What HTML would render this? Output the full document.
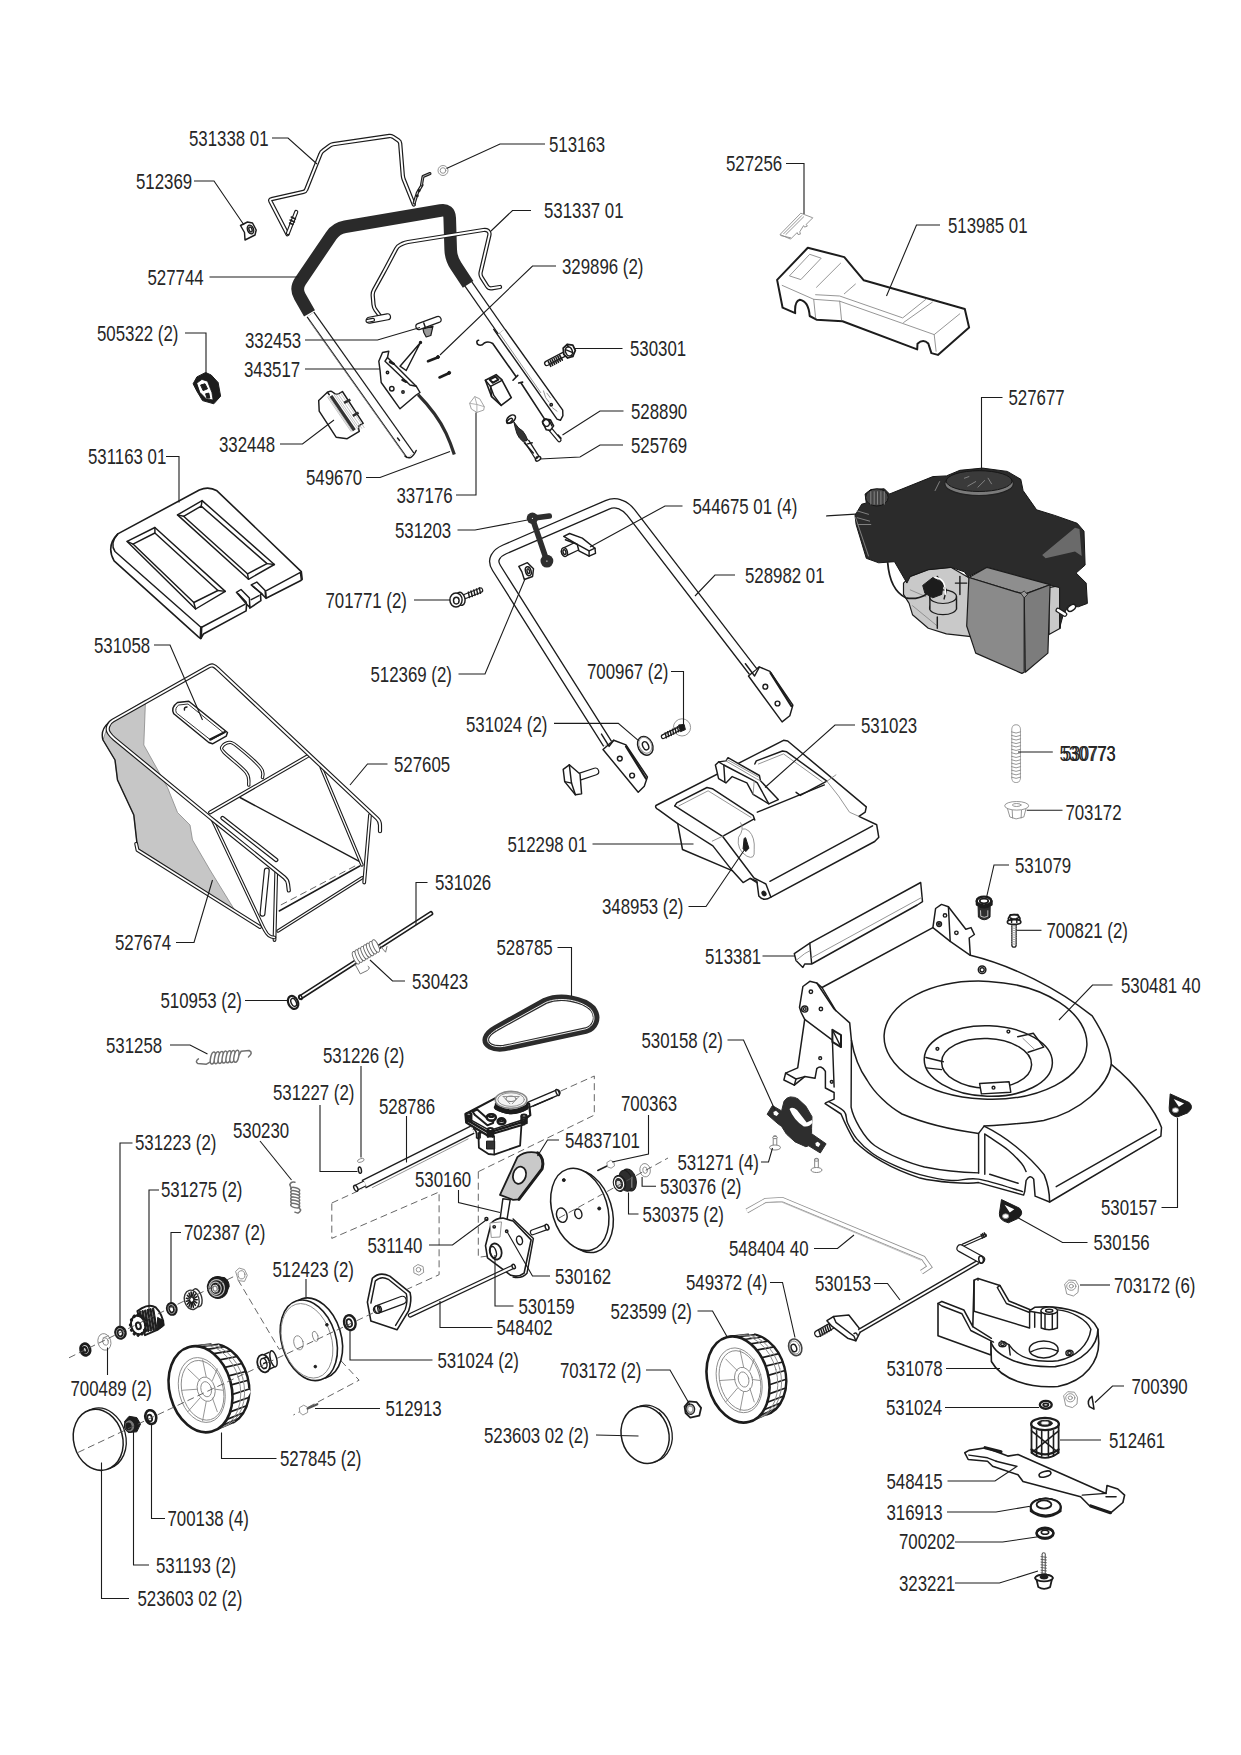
<!DOCTYPE html>
<html><head><meta charset="utf-8"><title>Parts diagram</title>
<style>
html,body{margin:0;padding:0;background:#fff}
svg{display:block}
text{font-family:"Liberation Sans",sans-serif;font-size:22.2px;fill:#262626}
.ld{fill:none;stroke:#1c1c1c;stroke-width:1.1}
.o{fill:none;stroke:#1c1c1c;stroke-width:1.45;stroke-linejoin:round;stroke-linecap:round}
.o2{fill:none;stroke:#1c1c1c;stroke-width:2;stroke-linejoin:round;stroke-linecap:round}
.w{fill:#fff;stroke:#1c1c1c;stroke-width:1.45;stroke-linejoin:round;stroke-linecap:round}
.w2{fill:#fff;stroke:#1c1c1c;stroke-width:2;stroke-linejoin:round;stroke-linecap:round}
.g{fill:none;stroke:#8a8a8a;stroke-width:0.9;stroke-linejoin:round;stroke-linecap:round}
.gw{fill:#fff;stroke:#8a8a8a;stroke-width:0.9;stroke-linejoin:round}
.k{fill:#1c1c1c;stroke:#1c1c1c;stroke-width:1;stroke-linejoin:round}
.d{fill:#2b2b2b;stroke:#161616;stroke-width:1;stroke-linejoin:round}
.m{fill:#8c8c8c;stroke:#1c1c1c;stroke-width:1.2;stroke-linejoin:round}
.lg{fill:#c9c9c9;stroke:#1c1c1c;stroke-width:1.2;stroke-linejoin:round}
.ds{fill:none;stroke:#555;stroke-width:0.9;stroke-dasharray:7 4}
</style></head><body>
<svg width="1241" height="1755" viewBox="0 0 1241 1755">
<rect width="1241" height="1755" fill="#fff"/>

<!-- parts_01_handle.py -->
<path d="M287.5,234.2 L270.4,201.3 Q269.5,199.5 271.5,199.1 L303.5,191.9 Q305.5,191.5 306.2,189.6 L320.5,153.9 Q321.2,152 322.9,150.8 L329.6,145.7 Q331.2,144.5 333.2,144.2 L389.3,136 Q391.2,135.8 392.9,136.8 L398.3,140.4 Q400,141.5 400.2,143.5 L402.8,175.5 Q403,177.5 403.7,179.4 L413.8,204.5" fill="none" stroke="#1c1c1c" stroke-width="4.3" stroke-linecap="round" stroke-linejoin="round"/>
<path d="M287.5,234.2 L270.4,201.3 Q269.5,199.5 271.5,199.1 L303.5,191.9 Q305.5,191.5 306.2,189.6 L320.5,153.9 Q321.2,152 322.9,150.8 L329.6,145.7 Q331.2,144.5 333.2,144.2 L389.3,136 Q391.2,135.8 392.9,136.8 L398.3,140.4 Q400,141.5 400.2,143.5 L402.8,175.5 Q403,177.5 403.7,179.4 L413.8,204.5" fill="none" stroke="#fff" stroke-width="1.9" stroke-linecap="round" stroke-linejoin="round"/>
<path d="M288,233 L296.2,212" fill="none" stroke="#1c1c1c" stroke-width="4.2" stroke-linecap="round" stroke-linejoin="round"/>
<path d="M288,233 L296.2,212" fill="none" stroke="#fff" stroke-width="2" stroke-linecap="round" stroke-linejoin="round"/>
<polyline class="o" points="290,220 294.5,222"/>
<polyline class="o" points="291.2,217 295.5,219"/>
<polyline class="o" points="289.5,223 293,224.5"/>
<path d="M414.2,203 L417.5,192.5 L422,185" fill="none" stroke="#1c1c1c" stroke-width="3.2" stroke-linecap="round" stroke-linejoin="round"/>
<path d="M414.2,203 L417.5,192.5 L422,185" fill="none" stroke="#fff" stroke-width="0.8" stroke-linecap="round" stroke-linejoin="round"/>
<path d="M421.5,185 L423,176.5 L430,173.5" fill="none" stroke="#1c1c1c" stroke-width="3" stroke-linecap="round" stroke-linejoin="round"/>
<path d="M421.5,185 L423,176.5 L430,173.5" fill="none" stroke="#fff" stroke-width="0.6" stroke-linecap="round" stroke-linejoin="round"/>
<circle class="o" cx="419" cy="190.5" r="0.8"/>
<circle class="o" cx="417.2" cy="195.8" r="0.8"/>
<circle class="gw" cx="443" cy="170.5" r="5"/>
<circle class="g" cx="443" cy="170.5" r="2.8"/>
<path d="M310.5,314.5 L410.5,455.5" fill="none" stroke="#1c1c1c" stroke-width="9.5" stroke-linecap="butt" stroke-linejoin="round"/>
<path d="M310.5,314.5 L410.5,455.5" fill="none" stroke="#fff" stroke-width="7.1" stroke-linecap="butt" stroke-linejoin="round"/>
<polyline class="g" points="309.5,321.2 406.2,457.5"/>
<path class="o" d="M405,456.2 Q411.2,461.2 416.2,450.5"/>
<path class="w" d="M493.8,329.4 L557,419.1 L560.4,420.3 L562.9,415.7 L562.7,410.1 L505.1,329.4"/>
<polyline class="g" points="497.2,330 540.7,392.6"/>
<polyline class="g" points="543.5,390.9 545.7,397.7 549.1,402.2"/>
<polyline class="g" points="546.9,393.2 550.3,397.7"/>
<polyline class="g" points="552.5,407.8 557,411.2"/>
<circle class="o" cx="551.2" cy="404.7" r="1.2"/>
<path d="M467,282 L501.5,331.5" fill="none" stroke="#1c1c1c" stroke-width="9.2" stroke-linecap="butt" stroke-linejoin="round"/>
<path d="M467,282 L501.5,331.5" fill="none" stroke="#fff" stroke-width="6.8" stroke-linecap="butt" stroke-linejoin="round"/>
<polyline class="o" points="397.5,438 399.5,440.5"/>
<path d="M309.5,313.4 L299.8,296.4 Q295.3,288.6 300.4,281.1 L331.2,235.7 Q336.3,228.3 345.1,226.8 L440.5,210.5 Q449.4,208.9 449.7,217.9 L450.7,249.6 Q451,258.6 456,266.1 L468.1,284.4" fill="none" stroke="#2a2a2a" stroke-width="12.6" stroke-linecap="butt" stroke-linejoin="round"/>
<path d="M380,316 L375.5,309.9 Q373.8,307.5 373.5,304.5 L372.7,295.5 Q372.5,292.5 374,289.9 L383.5,272.6 Q385,270 386.4,267.3 L396.1,248.9 Q397.5,246.2 400.2,244.9 L402.3,243.8 Q405,242.5 408,242 L483.3,230 Q486.2,229.5 487.9,230.8 L488.3,231.2 Q490,232.5 489.3,235.4 L480.7,272.1 Q480,275 481.6,277.5 L487.1,286.2 Q488.8,288.8 491.7,288.3 L500,287" fill="none" stroke="#1c1c1c" stroke-width="4.3" stroke-linecap="round" stroke-linejoin="round"/>
<path d="M380,316 L375.5,309.9 Q373.8,307.5 373.5,304.5 L372.7,295.5 Q372.5,292.5 374,289.9 L383.5,272.6 Q385,270 386.4,267.3 L396.1,248.9 Q397.5,246.2 400.2,244.9 L402.3,243.8 Q405,242.5 408,242 L483.3,230 Q486.2,229.5 487.9,230.8 L488.3,231.2 Q490,232.5 489.3,235.4 L480.7,272.1 Q480,275 481.6,277.5 L487.1,286.2 Q488.8,288.8 491.7,288.3 L500,287" fill="none" stroke="#fff" stroke-width="1.9" stroke-linecap="round" stroke-linejoin="round"/>
<path d="M369.5,320.2 L387.5,316.8" fill="none" stroke="#1c1c1c" stroke-width="7.2" stroke-linecap="round" stroke-linejoin="round"/>
<path d="M369.5,320.2 L387.5,316.8" fill="none" stroke="#fff" stroke-width="4.8" stroke-linecap="round" stroke-linejoin="round"/>
<path d="M367.5,320.8 L373,319.8" fill="none" stroke="#1c1c1c" stroke-width="4.2" stroke-linecap="round" stroke-linejoin="round"/>
<path d="M367.5,320.8 L373,319.8" fill="none" stroke="#fff" stroke-width="1.8" stroke-linecap="round" stroke-linejoin="round"/>
<polygon class="m" points="423,328.8 433,326.2 430.8,335.5 426.2,337 423.8,332.5" style="fill:#9a9a9a"/>
<path d="M419,326.5 L438,319.5" fill="none" stroke="#1c1c1c" stroke-width="7.4" stroke-linecap="round" stroke-linejoin="round"/>
<path d="M419,326.5 L438,319.5" fill="none" stroke="#fff" stroke-width="5" stroke-linecap="round" stroke-linejoin="round"/>
<polyline class="o" points="423.8,323 425.5,328"/>
<polygon class="w" points="378.8,361.2 382.5,352.5 388.8,351.2 387.5,357.5 416.2,386.2 420,392.5 416.2,395 400,408.8 381.2,382.5 380,370"/>
<polyline class="o" points="387.5,357.5 385,361.2 410,385 416.2,386.2"/>
<circle class="o" cx="387.5" cy="372.5" r="1.2"/>
<circle class="o" cx="391.8" cy="388.8" r="2.2"/>
<circle class="o" cx="403" cy="392" r="1.2"/>
<polygon class="w" points="420.5,342.5 400,366.2 406.2,370.5"/>
<circle class="o" cx="420.5" cy="342.5" r="1"/>
<path d="M390,362 L393.8,363.8" fill="none" stroke="#1c1c1c" stroke-width="2.5" stroke-linecap="round" stroke-linejoin="round"/>
<path d="M402.5,380 L406.2,381.8" fill="none" stroke="#1c1c1c" stroke-width="2.5" stroke-linecap="round" stroke-linejoin="round"/>
<path class="o" d="M418.1,394.7 Q437,414 446.1,433.4 Q451,444 454.3,454.6" style="stroke:#2e2e2e;stroke-width:3.2;stroke-linecap:butt"/>
<path d="M428,361.2 L437.5,357.5" fill="none" stroke="#1c1c1c" stroke-width="2.6" stroke-linecap="round" stroke-linejoin="round"/>
<circle class="k" cx="438" cy="357" r="1.5"/>
<path d="M439.5,377.5 L448.8,373.2" fill="none" stroke="#1c1c1c" stroke-width="2.6" stroke-linecap="round" stroke-linejoin="round"/>
<circle class="k" cx="449.2" cy="372.8" r="1.5"/>
<path class="w" d="M318.7,400.5 L327.4,392.3 Q330.3,390.8 331.8,391.5 L335.1,393.9 Q337.6,394.4 339,393.7 L342.4,391.5 L363.2,423.4 Q359.3,425.1 358.8,426.1 Q357.9,428.5 359.3,431.4 L347.2,438.7 L336.1,437.2 L319.2,411.1 Z"/>
<polyline class="g" points="327.4,396.9 351.1,431.5" style="stroke:#aaa;stroke-width:0.7"/>
<polyline class="g" points="328.6,396.5 352.3,431.1" style="stroke:#aaa;stroke-width:0.7"/>
<polyline class="g" points="334.2,394.9 357.9,429.4" style="stroke:#aaa;stroke-width:0.7"/>
<polyline class="g" points="335.9,394.4 359.6,428.9" style="stroke:#aaa;stroke-width:0.7"/>
<polyline class="g" points="338,393.7 361.7,428.3" style="stroke:#aaa;stroke-width:0.7"/>
<polyline class="g" points="340.5,393 364.2,427.6" style="stroke:#aaa;stroke-width:0.7"/>
<path d="M331,395.9 L354.4,430.2" fill="none" stroke="#333" stroke-width="3.4" stroke-linecap="butt" stroke-linejoin="round"/>
<path d="M344.1,402.8 L350.4,399.6" fill="none" stroke="#2e2e2e" stroke-width="2.6" stroke-linecap="butt" stroke-linejoin="round"/>
<path d="M352.8,415.9 L358.6,412.7" fill="none" stroke="#2e2e2e" stroke-width="2.6" stroke-linecap="butt" stroke-linejoin="round"/>
<polyline class="o" points="327.4,392.3 329.3,394.7"/>
<path class="o" d="M478.6,340.2 Q475.8,340.7 477.5,344.1 Q480.9,346.9 484.3,343 Q488.2,340.7 492.7,343.5 L515.8,376.3" style="stroke-width:1.6"/>
<polyline class="o" points="513,380.2 517.8,375.4" style="stroke-width:1.6"/>
<polyline class="o" points="518.7,383 522.6,382.1" style="stroke-width:1.6"/>
<polyline class="o" points="520.9,382.8 544.6,419.1" style="stroke-width:1.6"/>
<path d="M550.3,429.3 L559.3,440" fill="none" stroke="#1c1c1c" stroke-width="4.6" stroke-linecap="round" stroke-linejoin="round"/>
<path d="M550.3,429.3 L559.3,440" fill="none" stroke="#fff" stroke-width="2.2" stroke-linecap="round" stroke-linejoin="round"/>
<polyline class="o" points="558.1,434.9 561,438.3"/>
<path class="w" d="M542.4,421.9 L545.7,419.1 L550.3,419.7 L553.6,425.9 L550.3,430.4 L546.3,429.8 Z" style="stroke-width:1.6"/>
<ellipse class="o" cx="546" cy="422.7" rx="3.2" ry="3.8" transform="rotate(-35 546 422.7)"/>
<polyline class="o" points="549.1,420.3 551.9,425.9"/>
<polygon class="gw" points="469.6,403.3 474.7,396.6 479.7,398.8 484.3,406.7 483.7,410.1 476.9,412.4 471.3,409" style="stroke:#999"/>
<polyline class="g" points="474.7,396.6 476.9,404.5 476.9,412.4" style="stroke:#aaa"/>
<polyline class="g" points="476.9,404.5 484.3,406.7" style="stroke:#aaa"/>
<polyline class="g" points="469.6,403.3 476.9,404.5" style="stroke:#aaa"/>
<path class="w" d="M485.4,380.2 L496.1,374.6 L501.7,379.6 L511.3,397.7 L501.2,405.4 L491.6,396.6 Z" style="stroke-width:1.6"/>
<path class="o" d="M485.4,380.2 L490.5,386.4 L501.2,380.8 L501.7,379.6"/>
<polyline class="o" points="490.5,386.4 493.8,395.4 501.2,405.4"/>
<polyline class="o" points="490.5,386.4 491.6,396.6"/>
<polygon class="o" points="489.6,379.6 495.5,376.5 498.4,379.6 492.7,382.8" style="stroke-width:2"/>
<ellipse class="w" cx="511" cy="419.1" rx="5.1" ry="3.2" transform="rotate(-40 511 419.1)" style="stroke-width:1.6"/>
<ellipse class="o" cx="509.6" cy="420.8" rx="3.4" ry="1.6" transform="rotate(-40 509.6 420.8)"/>
<path class="k" d="M513.9,421.9 L518.7,428.1 Q523.2,430.4 525.4,434.9 L527.7,440 L523.2,441.7 Q518.7,438.3 517,433.8 L515.3,428.1 Z" style="fill:#333"/>
<path d="M526.6,441.1 L537.8,458.6" fill="none" stroke="#1c1c1c" stroke-width="5.6" stroke-linecap="butt" stroke-linejoin="round"/>
<path d="M526.6,441.1 L537.8,458.6" fill="none" stroke="#fff" stroke-width="3" stroke-linecap="butt" stroke-linejoin="round"/>
<ellipse class="w" cx="538.1" cy="458.8" rx="2.9" ry="1.8" transform="rotate(-35 538.1 458.8)"/>
<polyline class="o" points="527.7,443.9 532.2,442.8"/>
<polyline class="o" points="524.3,442.8 533.3,453"/>
<circle class="o" cx="536.9" cy="457.5" r="0.6"/>
<path d="M546.9,363.3 L564.9,353.9" fill="none" stroke="#1c1c1c" stroke-width="5.8" stroke-linecap="round" stroke-linejoin="round"/>
<path d="M546.9,363.3 L564.9,353.9" fill="none" stroke="#fff" stroke-width="3.2" stroke-linecap="round" stroke-linejoin="round"/>
<polyline class="o" points="548.3,361.6 550.8,366.3" style="stroke-width:1.6"/>
<polyline class="o" points="550.3,360.6 552.7,365.3" style="stroke-width:1.6"/>
<polyline class="o" points="552.2,359.6 554.7,364.3" style="stroke-width:1.6"/>
<polyline class="o" points="554.1,358.5 556.6,363.3" style="stroke-width:1.6"/>
<polyline class="o" points="556,357.5 558.5,362.3" style="stroke-width:1.6"/>
<polyline class="o" points="557.9,356.5 560.4,361.2" style="stroke-width:1.6"/>
<polyline class="o" points="559.8,355.5 562.3,360.2" style="stroke-width:1.6"/>
<path class="w" d="M563.2,348.1 L567.2,344.4 L572.8,345.2 L575.3,350.3 L572.8,356.5 L567.7,358 L563.8,354.3 Z" style="stroke-width:1.8"/>
<ellipse class="o" cx="568.9" cy="351.4" rx="3.4" ry="4.7" transform="rotate(-20 568.9 351.4)"/>
<polyline class="o" points="567.2,344.4 568.3,346.9"/>
<polyline class="o" points="572.8,356.5 571.1,355.4"/>
<polyline class="o" points="565.5,349.7 572.8,352.6"/>
<polygon class="k" points="193.1,383.8 196.9,376.9 205.6,372.5 211.2,375 218.1,382.5 220.6,396.2 213.8,403.8 202.5,400.6 196.9,391.2"/>
<polygon class="w" points="196.9,383.1 201.9,379.4 207.5,381.2 211.9,392.5 213.1,400 206.2,398.8 200,392.5" style="stroke-width:0.8"/>
<polygon class="k" points="200.6,385 205,383.8 207.5,388.8 203.1,390.6"/>
<polygon class="k" points="205.6,393.8 208.8,393.1 209.8,398.1 206.9,398.1"/>
<polygon class="w" points="240.5,225.5 247.5,222 252.5,223 256.2,230 255,235 245,240 244.5,232.5"/>
<ellipse class="o" cx="250.5" cy="229.5" rx="3" ry="4.5" transform="rotate(-20 250.5 229.5)"/>
<ellipse class="o" cx="250.5" cy="229.5" rx="1.5" ry="2.5" transform="rotate(-20 250.5 229.5)"/>
<!-- parts_02_cover.py -->
<path class="w2" d="M777.1,279.9 L807.8,247.8 L844.3,257.1 L863.8,280.3 L964.8,309 L969.1,327.5 L937.9,354.9 L931.4,353.1 L928.3,343.5 Q923.1,338.3 917.5,343.8 L917.2,349.4 L842.5,321.2 L816.5,319.7 L809.7,316 Q808.6,301.2 799.8,299.7 Q794.3,301.2 795.2,313.2 L782.6,307.7 Z"/>
<polygon class="g" points="789.7,275.6 809.7,254.3 821.2,258.2 801.1,279.3"/>
<polyline class="g" points="782.2,285.4 813.7,299.3 839.7,301.2 934.2,334.6 959.8,313.8"/>
<polyline class="g" points="815.6,294.7 839.7,296 902.7,317.9 925.9,299.3"/>
<polyline class="g" points="816.5,287.3 840.6,263.2"/>
<polyline class="g" points="844.3,293.8 855.4,284.1"/>
<polyline class="g" points="813.7,299.3 815.6,317.9"/>
<polyline class="g" points="839.7,301.2 841.5,319.7"/>
<polyline class="g" points="934.2,334.6 936.1,351.2"/>
<polyline class="g" points="903.6,322.5 932.4,302.1"/>
<polygon class="gw" points="780,234.5 800.8,213.2 812.8,217.8 806.3,224.3 807.3,226.1 804.5,227.1 803.6,225.6 799.8,231.7 800.4,234.1 798,234.5 797.1,232.6 790.6,239.1"/>
<polyline class="g" points="783.7,233.7 801.7,215.6"/>
<polyline class="g" points="785.9,234.5 803.6,216.9"/>
<polyline class="g" points="780.8,235.6 790.6,237.8"/>
<!-- parts_03_engine.py -->
<polyline class="o" points="826.8,515.9 855.6,514.1"/>
<polygon class="lg" points="903.5,583.1 910.3,576.4 928.3,569.6 950.9,567.3 966.7,576.4 977.9,585.4 977.9,637.3 946.4,633.9 928.3,628.2 912.5,614.7 909.1,603.4 903.5,594.4"/>
<ellipse class="lg" cx="943" cy="607.9" rx="13.5" ry="6.8" transform="rotate(0 943 607.9)"/>
<polygon class="lg" points="929.9,596.7 956.5,596.7 956.5,609.1 929.9,609.1" style="stroke:none"/>
<ellipse class="lg" cx="943" cy="596.7" rx="13.5" ry="6.8" transform="rotate(0 943 596.7)"/>
<polyline class="o" points="929.9,596.7 929.9,609.1"/>
<polyline class="o" points="956.5,596.7 956.5,609.1"/>
<polyline class="g" points="912.5,605.7 937.3,626"/>
<polyline class="o" points="937.3,617 937.3,628.2"/>
<polyline class="g" points="910.3,589.9 926,596.7"/>
<polyline class="o" points="937.3,576.4 946.4,589.9 944.1,598.9"/>
<polyline class="o" points="959.9,576.4 959.9,594.4"/>
<polyline class="o" points="955.4,583.1 966.7,583.1"/>
<polygon class="lg" points="1049,587.6 1060.3,585.4 1060.3,628.2 1049,634.6"/>
<path class="d" d="M855,515.4 L861.7,504.2 L866.3,503 L865.1,494 L870.8,489.5 L884.3,488.8 L889.5,494 L932.8,476.6 L946.4,475.9 L959.9,470.3 L982.5,468.1 L1007.3,471.4 L1020.8,479.3 L1023.1,490.6 L1036.6,509.8 L1054.7,515.4 L1077.2,523.3 L1084,531.2 L1085.1,565.1 L1076.1,573 L1086.2,583.1 L1087.4,603.4 L1078.3,606.8 L1068.2,605.7 L1062.6,617 L1059.6,628.2 L1059.6,587.6 L1050.1,585.4 L987,567.3 L967.8,576.8 L964.4,571.8 L950.9,567.3 L928.3,569.6 L910.3,576.4 L906.9,583.1 L894.5,561.7 L878.7,562.8 L866.3,558.3 L856.1,524.5 Z"/>
<ellipse class="m" cx="979.1" cy="483.8" rx="34.3" ry="11.7" transform="rotate(0 979.1 483.8)" style="fill:#7a7a7a;stroke:#222"/>
<ellipse class="d" cx="979.1" cy="481.1" rx="32.9" ry="10.4" transform="rotate(0 979.1 481.1)" style="fill:#3a3a3a"/>
<polyline class="g" points="964.4,478.2 968.9,476.6"/>
<polyline class="g" points="967.8,486.1 975.7,481.6"/>
<polyline class="g" points="977.9,487.2 984.7,480.5"/>
<polyline class="g" points="988.1,478.2 991.5,483.8"/>
<polyline class="g" points="935.1,490.6 939.6,481.6"/>
<polygon class="m" points="1042.2,554.9 1075,527.8 1079.5,529 1081.7,556 1075,551.5 1045.6,558.3" style="fill:#6a6a6a;stroke:none"/>
<ellipse class="d" cx="876.9" cy="497.4" rx="11.3" ry="8.6" transform="rotate(0 876.9 497.4)" style="fill:#444"/>
<polyline class="g" points="870.8,491.7 870.8,504.2"/>
<polyline class="g" points="874.2,491.7 874.2,504.2"/>
<polyline class="g" points="877.5,491.7 877.5,504.2"/>
<polyline class="g" points="880.9,491.7 880.9,504.2"/>
<polyline class="g" points="884.3,491.7 884.3,504.2"/>
<polyline class="g" points="857.2,510.9 868.5,514.3"/>
<polyline class="g" points="857.2,517.7 869.6,521.1"/>
<polyline class="g" points="858.4,524.5 870.8,524.5"/>
<polyline class="g" points="855.6,517.7 868.5,556"/>
<path class="o" d="M887.7,562.8 Q889.9,589.9 905.7,597.8 Q917,600 926,594.4" style="stroke-width:1.8"/>
<polygon class="k" points="922.7,585.4 932.8,577.5 943,583.1 941.8,594.4 932.8,597.8 924.9,593.3"/>
<path class="o" d="M935.1,577.5 Q946.4,578.6 945.2,594.4" style="stroke:#fff;stroke-width:1.5"/>
<polygon class="m" points="968.9,577.5 987,567.3 1050.1,584.7 1024.2,594.4" style="fill:#8e8e8e"/>
<polygon class="m" points="1024.2,594.4 1050.1,584.7 1047.9,653.1 1025.3,672.2" style="fill:#7c7c7c"/>
<path class="m" d="M968.9,577.5 L1024.2,594.4 L1024.2,672.2 L1021.9,673.4 L975.7,653.1 L966.7,626 Z" style="fill:#8a8a8a"/>
<polygon class="m" points="1020.8,593.3 1024.2,591 1027.6,594.4 1024.2,597.8" style="fill:#999;stroke-width:0.8"/>
<path d="M1058,610.2 L1064.8,614.3" fill="none" stroke="#1c1c1c" stroke-width="5" stroke-linecap="round" stroke-linejoin="round"/>
<path d="M1058,610.2 L1064.8,614.3" fill="none" stroke="#fff" stroke-width="2.6" stroke-linecap="round" stroke-linejoin="round"/>
<ellipse class="w" cx="1071.6" cy="607.9" rx="4.5" ry="2.7" transform="rotate(-35 1071.6 607.9)"/>
<!-- parts_04_lid.py -->
<path class="w" d="M117.8,533.9 L199.3,490 Q208.6,485.8 217,490.8 L301.3,571.6 L302.2,579.3 L300.4,580.8 L266.1,598.3 L265.7,592.3 L260.5,594.5 L260.9,600.7 L249.8,608.1 L249,602.5 L246.6,604.4 L246.1,610.9 L203.4,634 L200.8,638.7 L198.4,636.8 L114.1,560.8 Q105.8,546 117.8,533.9 Z" style="stroke-width:1.6"/>
<path class="o" d="M117.8,533.9 Q109.5,543.2 115,551.5 L201.2,627.5 L244.8,604.4"/>
<polyline class="o" points="201.2,627.5 200.8,637.7" style="stroke-width:2.5"/>
<polyline class="o" points="265.1,591.4 300.4,572.3 301.3,579.3"/>
<polyline class="o" points="251.2,599.7 259,595.7"/>
<polygon class="o" points="127.1,541.4 154.9,527.5 225.3,591.4 195.6,609"/>
<polygon class="o" points="133,544.1 154.9,533 217.9,590.5 193.8,602.5"/>
<polyline class="o" points="127.1,541.4 133,544.1"/>
<polyline class="o" points="225.3,591.4 217.9,590.5"/>
<polyline class="o" points="195.6,609 193.8,602.5"/>
<polyline class="o" points="154.9,527.5 154.9,533"/>
<polygon class="o" points="177.5,514.9 202.1,500.6 274.4,564.5 248.5,579.3"/>
<polygon class="o" points="183.6,516.3 201.2,506.1 267,563.6 247.5,573.8"/>
<polyline class="o" points="177.5,514.9 183.6,516.3"/>
<polyline class="o" points="274.4,564.5 267,563.6"/>
<polyline class="o" points="248.5,579.3 247.5,573.8"/>
<polyline class="o" points="202.1,500.6 201.2,506.1"/>
<polygon class="w" points="236.4,592.3 241,589.5 249.4,597.9 249.8,607.1 246.6,604.4"/>
<polyline class="o" points="238.3,593.8 246.1,602 246.6,604.4"/>
<polygon class="w" points="251.2,584.9 256.8,582.1 265.1,590.5 265.7,597.9 262.4,594.5"/>
<polyline class="o" points="253.1,586.4 261.4,593.2 262.4,594.5"/>
<!-- parts_05_bag.py -->
<path class="lg" d="M108.8,722.5 L145.5,700 L143.8,745 L167.5,787.5 L177.5,812.5 L190,825 L192.5,840 L210,870 L230,902.5 L236.2,912.5 L190,881.2 L137.5,848 L133.8,815 L117.5,780 L115,760 L103,740 Z" style="fill:#c6c6c6;stroke:#888;stroke-width:0.8"/>
<path class="o" d="M108.8,722.5 Q100,730 103,740 L115,760 L117.5,780 L133.8,815 L137.5,848"/>
<path d="M136.2,843.8 L137.5,850 L260,927" fill="none" stroke="#1c1c1c" stroke-width="3.9" stroke-linecap="round" stroke-linejoin="round"/>
<path d="M136.2,843.8 L137.5,850 L260,927" fill="none" stroke="#fff" stroke-width="1.7" stroke-linecap="round" stroke-linejoin="round"/>
<path d="M278,931 L362.2,877.8" fill="none" stroke="#1c1c1c" stroke-width="3.4" stroke-linecap="round" stroke-linejoin="round"/>
<path d="M278,931 L362.2,877.8" fill="none" stroke="#fff" stroke-width="1.3" stroke-linecap="round" stroke-linejoin="round"/>
<path d="M276.2,872.5 L274.5,940" fill="none" stroke="#1c1c1c" stroke-width="3.8" stroke-linecap="round" stroke-linejoin="round"/>
<path d="M276.2,872.5 L274.5,940" fill="none" stroke="#fff" stroke-width="1.6" stroke-linecap="round" stroke-linejoin="round"/>
<path d="M370,815 L364.2,882.5" fill="none" stroke="#1c1c1c" stroke-width="3.8" stroke-linecap="round" stroke-linejoin="round"/>
<path d="M370,815 L364.2,882.5" fill="none" stroke="#fff" stroke-width="1.6" stroke-linecap="round" stroke-linejoin="round"/>
<polyline class="ds" points="280.8,905 358.8,864"/>
<polyline class="o" points="279.2,911 359.8,866"/>
<polyline class="o" points="240,797.5 358.8,861.2"/>
<path d="M212.5,820 L262.8,926.4 Q264.5,930 266.4,932.8 L266.8,933.4 Q268.8,936.2 271.3,936.8 L274.5,937.5" fill="none" stroke="#1c1c1c" stroke-width="3.4" stroke-linecap="round" stroke-linejoin="round"/>
<path d="M212.5,820 L262.8,926.4 Q264.5,930 266.4,932.8 L266.8,933.4 Q268.8,936.2 271.3,936.8 L274.5,937.5" fill="none" stroke="#fff" stroke-width="1.3" stroke-linecap="round" stroke-linejoin="round"/>
<path d="M321.2,767.5 L362,865" fill="none" stroke="#1c1c1c" stroke-width="3.4" stroke-linecap="round" stroke-linejoin="round"/>
<path d="M321.2,767.5 L362,865" fill="none" stroke="#fff" stroke-width="1.3" stroke-linecap="round" stroke-linejoin="round"/>
<path d="M266.8,870.5 L262.5,913.8" fill="none" stroke="#1c1c1c" stroke-width="6" stroke-linecap="round" stroke-linejoin="round"/>
<path d="M266.8,870.5 L262.5,913.8" fill="none" stroke="#fff" stroke-width="3.6" stroke-linecap="round" stroke-linejoin="round"/>
<path d="M222.5,818 L276.2,860" fill="none" stroke="#1c1c1c" stroke-width="4.4" stroke-linecap="round" stroke-linejoin="round"/>
<path d="M222.5,818 L276.2,860" fill="none" stroke="#fff" stroke-width="2" stroke-linecap="round" stroke-linejoin="round"/>
<path d="M210,812.5 L307.5,756.2" fill="none" stroke="#1c1c1c" stroke-width="3.8" stroke-linecap="round" stroke-linejoin="round"/>
<path d="M210,812.5 L307.5,756.2" fill="none" stroke="#fff" stroke-width="1.6" stroke-linecap="round" stroke-linejoin="round"/>
<path d="M380,831.2 L380,825.2 Q380,821.2 377.1,818.5 L217.9,669 Q215,666.2 213.3,665.7 L212.9,665.6 Q211.2,665 207.8,667 L113,720.5 Q109.5,722.5 108.4,725.9 L108.1,726.6 Q107,730 108.9,732.8 L109.3,733.4 Q111.2,736.2 114.3,738.8 L209.4,817 Q212.5,819.5 215.6,822 L284.4,877.5 Q287.5,880 288,884 L288.8,890.5" fill="none" stroke="#1c1c1c" stroke-width="4.2" stroke-linecap="round" stroke-linejoin="round"/>
<path d="M380,831.2 L380,825.2 Q380,821.2 377.1,818.5 L217.9,669 Q215,666.2 213.3,665.7 L212.9,665.6 Q211.2,665 207.8,667 L113,720.5 Q109.5,722.5 108.4,725.9 L108.1,726.6 Q107,730 108.9,732.8 L109.3,733.4 Q111.2,736.2 114.3,738.8 L209.4,817 Q212.5,819.5 215.6,822 L284.4,877.5 Q287.5,880 288,884 L288.8,890.5" fill="none" stroke="#fff" stroke-width="1.9" stroke-linecap="round" stroke-linejoin="round"/>
<path class="w" d="M173.8,713.8 Q170.5,707.5 177.5,702.5 L188.8,701.2 L227.5,732.5 L226.2,736.2 L212.5,743.8 L208.8,742.5 Z"/>
<path class="o" d="M176.2,712.5 Q174.5,708 178.8,705 L188,704 L223.8,733 L211.2,740 Z" style="stroke-width:0.9"/>
<path class="o" d="M187,707 Q183.8,707 184.5,710"/>
<polyline class="o" points="210,739.5 225,732" style="stroke-width:2"/>
<path d="M262.5,777.5 C262.2,775.8 264.9,772.8 260.5,767.5 C256.1,762.2 241.5,749.7 236.2,745.5 C231,741.3 231,742.4 228.8,742.5 C226.5,742.6 223.3,744.7 222.5,746.2 C221.7,747.8 219.8,747.6 223.8,752 C227.7,756.4 242.1,767 246.2,772.5 C250.4,778 248.3,782.9 248.8,785" fill="none" stroke="#1c1c1c" stroke-width="3.4" stroke-linecap="round" stroke-linejoin="round"/>
<path d="M262.5,777.5 C262.2,775.8 264.9,772.8 260.5,767.5 C256.1,762.2 241.5,749.7 236.2,745.5 C231,741.3 231,742.4 228.8,742.5 C226.5,742.6 223.3,744.7 222.5,746.2 C221.7,747.8 219.8,747.6 223.8,752 C227.7,756.4 242.1,767 246.2,772.5 C250.4,778 248.3,782.9 248.8,785" fill="none" stroke="#fff" stroke-width="1.4" stroke-linecap="round" stroke-linejoin="round"/>
<!-- parts_06_lowerhandle.py -->
<path class="w" d="M603,749.5 L613.7,740.3 L626,744.9 L647.4,777 L644.3,786.2 L638.2,792.3 Z"/>
<path class="w" d="M748.5,676 L759.2,666.8 L769.9,671.4 L792.9,705.1 L789.8,715.8 L782.1,721.9 Z"/>
<polyline class="o" points="626,746.4 645.9,778.5" style="stroke-width:2.2"/>
<polyline class="o" points="770.5,672.9 791.3,706" style="stroke-width:2.2"/>
<path d="M607.6,743.9 L496.5,568 Q492.8,562.1 495.1,557.7 L495.6,556.7 Q498,552.3 504.4,549.5 L607.3,504.8 Q613.7,502 619.5,504.3 L620.8,504.7 Q626.6,506.9 630.9,512.5 L753,671.4" fill="none" stroke="#1c1c1c" stroke-width="10.6" stroke-linecap="butt" stroke-linejoin="round"/>
<path d="M607.6,743.9 L496.5,568 Q492.8,562.1 495.1,557.7 L495.6,556.7 Q498,552.3 504.4,549.5 L607.3,504.8 Q613.7,502 619.5,504.3 L620.8,504.7 Q626.6,506.9 630.9,512.5 L753,671.4" fill="none" stroke="#fff" stroke-width="8" stroke-linecap="butt" stroke-linejoin="round"/>
<polyline class="o" points="601.5,734.1 609.1,746.4 613.7,740.3"/>
<polyline class="o" points="745.4,663.7 754.6,676 759.2,667.4"/>
<circle class="o" cx="619.8" cy="758.6" r="2.4"/>
<circle class="o" cx="632.1" cy="775.5" r="2.4"/>
<circle class="o" cx="765.3" cy="686.7" r="2.4"/>
<circle class="o" cx="777.5" cy="703.5" r="2.4"/>
<path d="M532.4,518.3 L546.9,561.1" fill="none" stroke="#2e2e2e" stroke-width="5.6" stroke-linecap="round" stroke-linejoin="round"/>
<path d="M532.4,518.3 L549.3,516.1" fill="none" stroke="#2e2e2e" stroke-width="5.5" stroke-linecap="round" stroke-linejoin="round"/>
<circle class="k" cx="532.4" cy="518.3" r="5.7" style="fill:#2e2e2e;stroke:none"/>
<circle class="k" cx="546.9" cy="561.1" r="6.4" style="fill:#2e2e2e;stroke:none"/>
<circle class="gw" cx="546.9" cy="561.1" r="0.7" style="stroke:none"/>
<circle class="gw" cx="532.4" cy="518.3" r="0.6" style="stroke:none"/>
<path d="M565.4,551.6 L577.2,546" fill="none" stroke="#1c1c1c" stroke-width="9.5" stroke-linecap="round" stroke-linejoin="round"/>
<path d="M565.4,551.6 L577.2,546" fill="none" stroke="#fff" stroke-width="7.1" stroke-linecap="round" stroke-linejoin="round"/>
<ellipse class="w" cx="564.5" cy="552.1" rx="2.9" ry="4.4" transform="rotate(-15 564.5 552.1)"/>
<ellipse class="o" cx="564.5" cy="552.1" rx="1.4" ry="2.4" transform="rotate(-15 564.5 552.1)"/>
<path class="w" d="M563.7,536.4 L569.6,533.5 L582.3,538.1 L595,548.2 L595.5,553.3 L589.1,556.2 L578.9,550.8 L577.2,544.3 Z"/>
<path class="o" d="M565.4,539.8 L577.2,544.3 L589.1,550.8 L595,548.2"/>
<polyline class="o" points="589.1,550.8 589.1,556.2"/>
<polygon class="w" points="518.8,566.3 527.4,562.7 533.5,568.8 532.6,576.5 524.3,579.5 521.9,571.9"/>
<ellipse class="o" cx="528.3" cy="571.2" rx="2.8" ry="4.6" transform="rotate(-15 528.3 571.2)"/>
<ellipse class="o" cx="528.3" cy="571.2" rx="1.2" ry="2.4" transform="rotate(-15 528.3 571.2)"/>
<path d="M463.7,597 L480.5,590.2" fill="none" stroke="#1c1c1c" stroke-width="5.5" stroke-linecap="round" stroke-linejoin="round"/>
<path d="M463.7,597 L480.5,590.2" fill="none" stroke="#fff" stroke-width="3.1" stroke-linecap="round" stroke-linejoin="round"/>
<polyline class="o" points="468.3,592.1 469.5,597.6"/>
<polyline class="o" points="471,591 472.3,596.5"/>
<polyline class="o" points="473.8,589.9 475,595.4"/>
<polyline class="o" points="476.5,588.9 477.8,594.4"/>
<polyline class="o" points="479.3,587.8 480.5,593.3"/>
<ellipse class="w" cx="460.6" cy="598.8" rx="4.3" ry="6.7" transform="rotate(-15 460.6 598.8)"/>
<ellipse class="w" cx="456" cy="600" rx="6.1" ry="7" transform="rotate(0 456 600)"/>
<ellipse class="o" cx="456.3" cy="600.6" rx="2.8" ry="3.4" transform="rotate(0 456.3 600.6)"/>
<circle class="gw" cx="682" cy="727.4" r="8.6"/>
<path d="M663.3,736.6 L679.6,728.6" fill="none" stroke="#1c1c1c" stroke-width="5" stroke-linecap="round" stroke-linejoin="round"/>
<path d="M663.3,736.6 L679.6,728.6" fill="none" stroke="#fff" stroke-width="2.6" stroke-linecap="round" stroke-linejoin="round"/>
<polyline class="o" points="665.2,732.9 666.4,737.8"/>
<polyline class="o" points="667.6,731.7 668.8,736.6"/>
<polyline class="o" points="670.1,730.5 671.3,735.4"/>
<polyline class="o" points="672.5,729.2 673.7,734.1"/>
<polyline class="o" points="675,728 676.2,732.9"/>
<polyline class="o" points="677.4,726.8 678.6,731.7"/>
<polygon class="k" points="678.6,725 684.1,724.4 685.4,729.6 680.5,731.7"/>
<ellipse class="w" cx="645.3" cy="745.8" rx="7.3" ry="9.8" transform="rotate(-25 645.3 745.8)"/>
<ellipse class="gw" cx="645.3" cy="745.2" rx="6.1" ry="8.3" transform="rotate(-25 645.3 745.2)"/>
<ellipse class="o" cx="645.6" cy="745.8" rx="2.8" ry="4.3" transform="rotate(-25 645.6 745.8)"/>
<path d="M580.7,776.4 L595.3,771.5" fill="none" stroke="#1c1c1c" stroke-width="8" stroke-linecap="round" stroke-linejoin="round"/>
<path d="M580.7,776.4 L595.3,771.5" fill="none" stroke="#fff" stroke-width="5.6" stroke-linecap="round" stroke-linejoin="round"/>
<polygon class="w" points="563.2,769.4 569.3,764.8 580,774 581.6,793.9 575.4,794.8 564.7,781.6"/>
<polyline class="o" points="569.3,764.8 571.5,783.1 575.4,794.8"/>
<polyline class="o" points="571.5,783.1 564.7,781.6"/>
<!-- parts_07_flap.py -->
<path class="w" d="M655.9,805.5 L783.5,740.3 L787.7,741 L866.3,806.9 L865.2,812.2 L858.9,816.4 L876.7,824.8 L878.8,837.3 L874.7,841.5 L770.9,897.2 Q763.6,901.9 758.8,896 L756.9,881.3 L750.2,878.4 L743.1,882.6 L732.2,870.6 L682.5,849.5 L677.7,823.7 L658.4,809.7 Q654.7,807.6 655.9,805.5 Z" style="stroke-width:1.5"/>
<polyline class="o" points="677.7,823.5 712.9,845.9 732.2,870.6"/>
<polyline class="o" points="674.8,805.9 722.5,836.3 754,878 765.9,884 770.9,897.2"/>
<path class="o" d="M674.8,805.9 L676.7,802.8 L707,787.5 L712.3,788.7 L753.1,815.3 L754.8,820.1"/>
<path class="g" d="M678.8,805.9 L708.1,790.8 L751,817.4"/>
<polyline class="g" points="712.3,841.1 722.5,836.3"/>
<polyline class="o" points="723.8,835.7 754.2,818.9"/>
<polyline class="o" points="757.3,812.2 824.4,784.9"/>
<path class="o" d="M754.8,764 L756.3,760.9 L782.5,751 L786.7,751.8 L826.9,781.2 L800.3,795.4 L796.1,792.3"/>
<path class="g" d="M758.4,764 L783.5,753.9 L822.3,781.8"/>
<polyline class="g" points="826.9,781.2 835.9,774.9"/>
<path class="g" d="M826.9,781.2 Q839,795.4 849.5,812.2 L858.9,816.4"/>
<polyline class="o" points="769.9,881.3 872.6,825.8"/>
<polyline class="o" points="750.2,878.4 757.3,883"/>
<ellipse class="k" cx="764" cy="893.5" rx="1.9" ry="2.5" transform="rotate(-30 764 893.5)"/>
<path class="g" d="M740.6,822.7 Q744.8,828.9 738.5,837.3 Q736.4,849.9 746.9,856.2 Q755.2,860.4 754.2,849.9 Q755.2,837.3 748.9,831 Q744.8,827.9 742.7,828.9"/>
<polygon class="k" points="744.1,838.4 745.6,837.7 748.9,848.2 745.8,851.6 743.1,848.8"/>
<path class="w" d="M715.4,765 L718.6,761.9 L725.9,760.9 L728,757.7 L759.4,775.5 L760.5,780.8 L778.3,799.6 L768.8,803.8 L753.1,794.4 L746.9,782.9 L732.2,776.6 L725.9,782.9 L718.6,778.7 Z"/>
<polyline class="o" points="718.6,761.9 723.8,765 754.2,780.8 757.3,782.9 768.8,803.8"/>
<polyline class="g" points="725.9,760.9 756.3,778.7 760.5,780.8"/>
<polyline class="o" points="723.8,765 724.9,781.8"/>
<polyline class="g" points="754.2,780.8 753.1,794.4"/>
<polyline class="g" points="726.9,759.4 758.4,777"/>
<!-- parts_08_deck.py -->
<path class="w" d="M822,987.5 L932.9,927.6 L935.6,908.5 L941.5,904.4 L948.4,906.8 L965.8,929.3 L971,927.6 L974.4,934.5 L969.2,938 L970.3,955.3 C1012.6,965.7 1057.6,988.2 1092.2,1015.9 C1107.8,1040.2 1111.3,1054 1111.3,1064.4 C1137.3,1085.2 1156.3,1112.9 1161.5,1127.5 L1160.9,1136.2 L1049.6,1202 L1035.1,1196.1 L1033.7,1179.1 Q1029.9,1173.9 1026.1,1180.5 L1024.7,1191.6 L1023.6,1195.1 L978.6,1182.6 C967.5,1184.3 936.3,1182.2 920,1178.1 C892.7,1169.1 870.1,1156.6 854.5,1141 C848,1130.3 843.5,1119.9 841,1114 L825.1,1103.6 L826.1,1102.6 L834.1,1099.1 L834.1,1092.5 L825.4,1088 L825.4,1071.4 Q821.3,1064.4 816.8,1068.6 L815,1078.3 L804.7,1076.6 L794.3,1085.2 L783.9,1080 L785.6,1073.1 L797.7,1067.9 L804.7,1019.4 L801.2,1012.5 L799.5,1007.3 L802.9,986.5 L809.8,981.3 L816.8,983 Z" style="stroke-width:1.5"/>
<path class="o" d="M816.8,983 L834.1,1009 L849.7,1022.9 L851.4,1040.2 C854.9,1061 860.8,1071.4 867,1080 C874,1092.2 887.8,1106 902,1114 C922.5,1122.6 950.2,1129.6 978.6,1133.4 L984.1,1126.1 C1005.6,1136.5 1028.1,1154.5 1044.1,1174.6 C1047.2,1182.2 1049.6,1192.6 1049.6,1202" style="stroke-width:1.5"/>
<path class="o" d="M851.4,1040.2 L851.1,1107.1 C853.2,1118.1 863.6,1137.2 874.6,1145.5 C887.8,1154.5 908.6,1163.2 924.5,1167 C943.3,1170.8 964,1172.5 978.6,1172.9"/>
<path class="o" d="M804.7,1019.4 L832.4,1040.2 L834.1,1087"/>
<polyline class="o" points="822,987.5 835.8,1010.7"/>
<circle class="o" cx="810.9" cy="991.7" r="1.7"/>
<circle class="o" cx="804.7" cy="1009" r="3.1"/>
<circle class="o" cx="804.7" cy="1009" r="1.4"/>
<circle class="o" cx="820.9" cy="1009" r="1.7"/>
<polygon class="o" points="832.4,1029.8 841,1035 841,1047.1 832.4,1041.9" style="stroke-width:2"/>
<polyline class="o" points="832.4,1029.8 841,1047.1"/>
<circle class="o" cx="820.2" cy="1058.2" r="1.4"/>
<circle class="o" cx="831.7" cy="1081.8" r="1.4"/>
<polyline class="o" points="785.6,1073.1 796,1079 804.7,1076.6"/>
<polyline class="o" points="796,1079 794.3,1085.2"/>
<circle class="o" cx="939.1" cy="924.1" r="2.4"/>
<circle class="o" cx="939.1" cy="924.1" r="1"/>
<circle class="o" cx="945" cy="915.4" r="1.7"/>
<circle class="o" cx="956.4" cy="932.8" r="1.7"/>
<path class="o" d="M932.9,927.6 L950.2,941.4 L970.3,955.3"/>
<polyline class="o" points="948.4,906.8 950.2,941.4"/>
<path class="o" d="M828.6,1101.5 C831.2,1103.2 841,1108 844.2,1111.6 C847.3,1115.1 845.5,1118.5 847.6,1123 C849.7,1127.5 852.5,1133.5 856.6,1138.6 C860.8,1143.7 866.2,1149 872.6,1153.5 C879,1158 887.2,1162.1 895.1,1165.6 C903,1169.1 910.6,1172.1 920,1174.6 C929.4,1177.1 941.8,1179.8 951.6,1180.5 C961.3,1181.3 966.8,1177.3 978.6,1179.1 C990.4,1181 1015.3,1189.5 1022.6,1191.6"/>
<path class="o" d="M1111.3,1064.4 C1107.8,1085.2 1081.9,1111.2 1043.7,1120.6 C1026.4,1124 1005.6,1124 984.1,1126.1" style="stroke-width:1.5"/>
<polyline class="o" points="1156.3,1129.6 1056.2,1186.7"/>
<ellipse class="o" cx="985.5" cy="1040.2" rx="101.5" ry="58.9" transform="rotate(3 985.5 1040.2)" style="stroke-width:1.5"/>
<ellipse class="o" cx="988.3" cy="1061" rx="64.1" ry="35.3" transform="rotate(2 988.3 1061)" style="stroke-width:1.5"/>
<ellipse class="o" cx="986.6" cy="1063.4" rx="45" ry="24.9" transform="rotate(2 986.6 1063.4)" style="stroke-width:1.5"/>
<path class="o" d="M925.9,1057.5 L943.3,1061.7"/>
<path class="o" d="M926.6,1067.9 L941.5,1069.6"/>
<path class="o" d="M1017.7,1036.7 L1033.3,1033.3 L1043.7,1047.1 L1028.1,1052.3"/>
<path class="g" d="M1022.9,1038.4 L1035.1,1049.9"/>
<path class="w" d="M979.6,1083.5 L1009.1,1081.8 L1010.8,1092.2 L981.4,1093.9 Z"/>
<circle class="o" cx="937.4" cy="1048.8" r="1.4"/>
<circle class="o" cx="1008.4" cy="1031.5" r="1.4"/>
<circle class="o" cx="993.5" cy="1087.7" r="1.4"/>
<circle class="o" cx="982.1" cy="969.8" r="3.8"/>
<circle class="o" cx="982.1" cy="969.8" r="2.1"/>
<polyline class="o" points="978.6,1133.4 978.6,1172.9"/>
<polyline class="o" points="984.8,1134.1 984.8,1174.3"/>
<path class="o" d="M984.8,1134.1 C985.9,1134.8 987.2,1135.6 991.1,1138.2 C994.9,1140.9 1003,1145.8 1008,1150 C1013.1,1154.2 1018.6,1160 1021.6,1163.5 C1024.6,1167.1 1025.3,1170.2 1026.1,1171.5"/>
<polyline class="o" points="989.7,1174.3 1018.1,1183.3"/>
<path class="w" d="M794.3,953.6 L809.8,943.2 L920.7,882.5 L922.5,901.6 L917.3,905 L811.6,964 L804.7,964 L802.9,967.4 L796,960.5 Z"/>
<polyline class="o" points="809.8,943.2 811.6,963.3"/>
<polyline class="g" points="811.6,957.7 921.8,897.4"/>
<polyline class="g" points="796,960.5 804.7,953.6 809.8,950.8"/>
<path class="k" d="M978.1,906.3 L978.4,917.1 Q984.2,922.4 990,917.1 L990.2,906.3 Z" style="fill:#2e2e2e"/>
<path class="o" d="M980.5,910.7 L980.8,916.3 Q984.2,918.3 987.8,916.3 L987.8,910.7" style="stroke:#ddd;stroke-width:0.8"/>
<path class="w" d="M976.8,901 L976.8,904.6 Q984.2,910.3 991.6,904.6 L991.6,901" style="stroke-width:2.2"/>
<ellipse class="w" cx="984" cy="901" rx="7.3" ry="4.4" transform="rotate(0 984 901)" style="stroke-width:2.4"/>
<ellipse class="o" cx="984" cy="901" rx="4.2" ry="2.3" transform="rotate(0 984 901)" style="stroke-width:1.8"/>
<path class="o" d="M977.3,903.8 Q984.2,908.7 991,903.8" style="stroke-width:1.8"/>
<path d="M1014,922.4 L1014,944.9" fill="none" stroke="#1c1c1c" stroke-width="5.6" stroke-linecap="round" stroke-linejoin="round"/>
<path d="M1014,922.4 L1014,944.9" fill="none" stroke="#fff" stroke-width="3" stroke-linecap="round" stroke-linejoin="round"/>
<polyline class="g" points="1011.7,925.6 1016.2,926.2" style="stroke:#999"/>
<polyline class="g" points="1011.7,927.9 1016.2,928.5" style="stroke:#999"/>
<polyline class="g" points="1011.7,930.1 1016.2,930.8" style="stroke:#999"/>
<polyline class="g" points="1011.7,932.4 1016.2,933" style="stroke:#999"/>
<polyline class="g" points="1011.7,934.6 1016.2,935.3" style="stroke:#999"/>
<polyline class="g" points="1011.7,936.9 1016.2,937.5" style="stroke:#999"/>
<polyline class="g" points="1011.7,939.1 1016.2,939.8" style="stroke:#999"/>
<polyline class="g" points="1011.7,941.4 1016.2,942" style="stroke:#999"/>
<polyline class="g" points="1011.7,943.7 1016.2,944.3" style="stroke:#999"/>
<path class="w" d="M1008.3,918.3 L1010.4,914.7 L1017.6,914.5 L1020,918.3 L1019.6,921.6 L1008.8,921.6 Z" style="stroke-width:1.6"/>
<ellipse class="w" cx="1014.1" cy="922" rx="6.8" ry="2.4" transform="rotate(0 1014.1 922)" style="stroke-width:1.6"/>
<polyline class="o" points="1011.6,918.3 1011.6,922.4"/>
<polyline class="o" points="1016.8,918.3 1016.8,922.4"/>
<ellipse class="o" cx="1014.1" cy="916.7" rx="4.4" ry="2.3" transform="rotate(0 1014.1 916.7)"/>
<path class="k" d="M1170.2,1093.9 L1189.3,1102.6 Q1194.5,1107.7 1187.5,1112.9 L1177.1,1117.1 Q1168.5,1114.7 1169.2,1107.7 Z"/>
<ellipse class="gw" cx="1175.4" cy="1110.2" rx="3.1" ry="2.4" transform="rotate(0 1175.4 1110.2)"/>
<polygon class="gw" points="1173.7,1099.1 1184.1,1103.6 1178.9,1106.7" style="stroke:none"/>
<path class="k" d="M1001.5,1199.6 L1019.5,1208.2 Q1024.7,1213.4 1017.7,1218.6 L1008.4,1222.8 Q998.7,1220.4 999.4,1213.4 Z"/>
<ellipse class="gw" cx="1005.6" cy="1216.2" rx="3.1" ry="2.4" transform="rotate(0 1005.6 1216.2)"/>
<polygon class="gw" points="1004.6,1204.8 1014.3,1209.3 1009.8,1212.4" style="stroke:none"/>
<!-- parts_09_small_right.py -->
<path d="M1016.1,729 L1016.1,778.3" fill="none" stroke="#9a9a9a" stroke-width="9.5" stroke-linecap="round" stroke-linejoin="round"/>
<path d="M1016.1,729 L1016.1,778.3" fill="none" stroke="#fff" stroke-width="7.7" stroke-linecap="round" stroke-linejoin="round"/>
<path class="g" d="M1011.4,731.9 Q1016.1,734.4 1020.7,731.9"/>
<path class="g" d="M1011.4,735.4 Q1016.1,737.9 1020.7,735.4"/>
<path class="g" d="M1011.4,738.9 Q1016.1,741.4 1020.7,738.9"/>
<path class="g" d="M1011.4,742.4 Q1016.1,744.9 1020.7,742.4"/>
<path class="g" d="M1011.4,745.8 Q1016.1,748.3 1020.7,745.8"/>
<path class="g" d="M1011.4,749.3 Q1016.1,751.8 1020.7,749.3"/>
<path class="g" d="M1011.4,752.8 Q1016.1,755.3 1020.7,752.8"/>
<path class="g" d="M1011.4,756.3 Q1016.1,758.8 1020.7,756.3"/>
<path class="g" d="M1011.4,759.8 Q1016.1,762.3 1020.7,759.8"/>
<path class="g" d="M1011.4,763.2 Q1016.1,765.8 1020.7,763.2"/>
<path class="g" d="M1011.4,766.7 Q1016.1,769.2 1020.7,766.7"/>
<path class="g" d="M1011.4,770.2 Q1016.1,772.7 1020.7,770.2"/>
<path class="g" d="M1011.4,773.7 Q1016.1,776.2 1020.7,773.7"/>
<path class="g" d="M1011.4,777.2 Q1016.1,779.7 1020.7,777.2"/>
<polygon class="gw" points="1007.4,808.3 1009.9,817 1016.1,818.9 1023.8,817 1026.1,808.3"/>
<polyline class="g" points="1012.2,810.2 1012.6,818"/>
<polyline class="g" points="1021.5,810.2 1021.1,818"/>
<ellipse class="gw" cx="1016.7" cy="805.8" rx="12" ry="4.3" transform="rotate(0 1016.7 805.8)"/>
<ellipse class="g" cx="1016.7" cy="805" rx="4.3" ry="1.5" transform="rotate(0 1016.7 805)"/>
<!-- parts_10_belt_shaft.py -->
<path class="o" d="M495.6,1028.3 L545,1001 C560.5,994.5 583.1,998.7 592.9,1008.6 C600,1018.5 594.3,1028.3 585.9,1030.6 L504.1,1048.1 C492.8,1049.5 484.3,1045.2 486,1038.2 C487.2,1034 491.4,1030.6 495.6,1028.3 Z" style="stroke:#2c2c2c;stroke-width:6.6"/>
<path class="o" d="M496.5,1029.7 L545.8,1002.4 C560.5,996.2 581.6,1000.4 591.2,1009.7 C597.2,1018.5 592.9,1026.9 585.5,1028.9 L503.7,1046.4 C494.2,1047.8 486.6,1044.4 487.7,1038.8 C488.6,1035.1 492.8,1032 496.5,1029.7 Z" style="stroke:#fff;stroke-width:0.9"/>
<path d="M300.5,997.3 L430.8,913.5" fill="none" stroke="#1c1c1c" stroke-width="5" stroke-linecap="round" stroke-linejoin="round"/>
<path d="M300.5,997.3 L430.8,913.5" fill="none" stroke="#fff" stroke-width="1.8" stroke-linecap="round" stroke-linejoin="round"/>
<ellipse class="o" cx="300.5" cy="997.3" rx="1.4" ry="2.3" transform="rotate(-30 300.5 997.3)"/>
<ellipse class="gw" cx="356" cy="957.8" rx="2.5" ry="6.8" transform="rotate(-25 356 957.8)" style="stroke:#666"/>
<ellipse class="gw" cx="358.8" cy="956.1" rx="2.5" ry="6.8" transform="rotate(-25 358.8 956.1)" style="stroke:#666"/>
<ellipse class="gw" cx="361.7" cy="954.4" rx="2.5" ry="6.8" transform="rotate(-25 361.7 954.4)" style="stroke:#666"/>
<ellipse class="gw" cx="364.5" cy="952.7" rx="2.5" ry="6.8" transform="rotate(-25 364.5 952.7)" style="stroke:#666"/>
<ellipse class="gw" cx="367.3" cy="951" rx="2.5" ry="6.8" transform="rotate(-25 367.3 951)" style="stroke:#666"/>
<ellipse class="gw" cx="370.1" cy="949.4" rx="2.5" ry="6.8" transform="rotate(-25 370.1 949.4)" style="stroke:#666"/>
<ellipse class="gw" cx="372.9" cy="947.7" rx="2.5" ry="6.8" transform="rotate(-25 372.9 947.7)" style="stroke:#666"/>
<ellipse class="gw" cx="375.8" cy="946" rx="2.5" ry="6.8" transform="rotate(-25 375.8 946)" style="stroke:#666"/>
<path class="g" d="M354.6,963.5 L360.3,973.9 L367.3,970.5 Q371,967.7 368.1,966.3" style="stroke:#666"/>
<path class="g" d="M379.4,945.1 L385.6,952.2 L387,946.5" style="stroke:#666"/>
<ellipse class="w" cx="293.1" cy="1002.4" rx="4.8" ry="6.8" transform="rotate(-25 293.1 1002.4)" style="stroke-width:2.2"/>
<ellipse class="o" cx="293.7" cy="1002.4" rx="2.5" ry="4.2" transform="rotate(-25 293.7 1002.4)"/>
<!-- parts_11_drive.py -->
<polyline class="ds" points="331.8,1203 362.2,1189.1"/>
<polyline class="ds" points="331.8,1203.6 331.8,1238.4 439.1,1192 439.1,1274.7 407.2,1289.2"/>
<polyline class="ds" points="478.3,1171.7 594.3,1115.1 594.3,1076 560.1,1091.3"/>
<polyline class="ds" points="478.3,1171.7 478.3,1257.3 495.7,1255"/>
<path d="M363.7,1184.2 L472.5,1129.6" fill="none" stroke="#1c1c1c" stroke-width="9.4" stroke-linecap="butt" stroke-linejoin="round"/>
<path d="M363.7,1184.2 L472.5,1129.6" fill="none" stroke="#fff" stroke-width="6.6" stroke-linecap="butt" stroke-linejoin="round"/>
<polyline class="g" points="372.4,1187.6 468.1,1138.9"/>
<path d="M356.4,1187.6 L365.1,1183.3" fill="none" stroke="#1c1c1c" stroke-width="6.5" stroke-linecap="butt" stroke-linejoin="round"/>
<path d="M356.4,1187.6 L365.1,1183.3" fill="none" stroke="#fff" stroke-width="4.1" stroke-linecap="butt" stroke-linejoin="round"/>
<ellipse class="w" cx="355.8" cy="1188.2" rx="1.7" ry="3.2" transform="rotate(-27 355.8 1188.2)"/>
<ellipse class="gw" cx="360.8" cy="1160.4" rx="3.5" ry="1.7" transform="rotate(-20 360.8 1160.4)"/>
<ellipse class="w" cx="359.9" cy="1170.2" rx="1.5" ry="3.2" transform="rotate(-10 359.9 1170.2)"/>
<path d="M529.7,1104.4 L557.3,1092.6" fill="none" stroke="#1c1c1c" stroke-width="6.6" stroke-linecap="round" stroke-linejoin="round"/>
<path d="M529.7,1104.4 L557.3,1092.6" fill="none" stroke="#fff" stroke-width="4" stroke-linecap="round" stroke-linejoin="round"/>
<ellipse class="w" cx="557.6" cy="1092.5" rx="1.4" ry="3.2" transform="rotate(-22 557.6 1092.5)"/>
<polyline class="o" points="533.6,1105.9 552.8,1097.6"/>
<path class="w" d="M478.4,1133.2 L478.9,1147.8 L488.5,1154 L494.2,1154.6 L520.1,1145.6 L521.5,1124.2 Z" style="stroke-width:1.8"/>
<polyline class="o" points="494.2,1136 494.2,1154.6"/>
<polygon class="k" points="486.5,1141.1 494.7,1141.1 494.7,1149 486.5,1149" style="fill:#333"/>
<path class="o" d="M473.8,1128.7 Q477.2,1130.9 476.7,1137.7 L478.9,1138.8" style="stroke-width:1.8"/>
<polyline class="o" points="480,1130.9 480,1137.7" style="stroke-width:1.8"/>
<path class="w" d="M465.4,1114 L496.4,1097.6 L529.1,1103.8 L530.3,1115.1 L525.7,1118.5 L524.6,1124.2 L494.2,1133.2 L488.5,1136 L466.2,1122.5 Z" style="stroke-width:2.2"/>
<path class="o" d="M466.5,1119.6 L489.6,1133.2 L494.2,1130.9 L524.6,1121.3" style="stroke-width:2.4"/>
<path class="o" d="M472.7,1111.7 L477.2,1109.5 L488.5,1119.6 L494.2,1117.4 L493,1123 L487.4,1125.3 L475,1115.1 Z" style="stroke-width:2"/>
<path class="o" d="M466.2,1117.4 L489.6,1130.4 L524,1119.6" style="stroke-width:1.6"/>
<path class="o" d="M466.3,1114.6 L466.3,1121.3 M471.2,1114.6 L471.2,1121.3" style="stroke-width:2.4"/>
<polyline class="o" points="466.3,1116.3 471.2,1116.3" style="stroke-width:1.8"/>
<polyline class="o" points="466.3,1117.9 471.2,1117.9" style="stroke-width:1.8"/>
<polyline class="o" points="466.3,1119.6 471.2,1119.6" style="stroke-width:1.8"/>
<polyline class="o" points="466.3,1121.3 471.2,1121.3" style="stroke-width:1.8"/>
<ellipse class="w" cx="468.8" cy="1114.2" rx="2.5" ry="1.4" transform="rotate(0 468.8 1114.2)" style="stroke-width:2"/>
<path class="o" d="M487.9,1129.8 L487.9,1136.6 M492.9,1129.8 L492.9,1136.6" style="stroke-width:2.4"/>
<polyline class="o" points="487.9,1131.5 492.9,1131.5" style="stroke-width:1.8"/>
<polyline class="o" points="487.9,1133.2 492.9,1133.2" style="stroke-width:1.8"/>
<polyline class="o" points="487.9,1134.9 492.9,1134.9" style="stroke-width:1.8"/>
<polyline class="o" points="487.9,1136.6 492.9,1136.6" style="stroke-width:1.8"/>
<ellipse class="w" cx="490.4" cy="1129.5" rx="2.5" ry="1.4" transform="rotate(0 490.4 1129.5)" style="stroke-width:2"/>
<path class="o" d="M521.6,1116.3 L521.6,1123 M526.5,1116.3 L526.5,1123" style="stroke-width:2.4"/>
<polyline class="o" points="521.6,1117.9 526.5,1117.9" style="stroke-width:1.8"/>
<polyline class="o" points="521.6,1119.6 526.5,1119.6" style="stroke-width:1.8"/>
<polyline class="o" points="521.6,1121.3 526.5,1121.3" style="stroke-width:1.8"/>
<polyline class="o" points="521.6,1123 526.5,1123" style="stroke-width:1.8"/>
<ellipse class="w" cx="524" cy="1115.9" rx="2.5" ry="1.4" transform="rotate(0 524 1115.9)" style="stroke-width:2"/>
<ellipse class="w" cx="491.3" cy="1117.4" rx="4.5" ry="3.2" transform="rotate(0 491.3 1117.4)" style="stroke-width:2.6"/>
<ellipse class="o" cx="491.3" cy="1115.7" rx="2.5" ry="1.4" transform="rotate(0 491.3 1115.7)" style="stroke-width:2"/>
<ellipse class="w" cx="501.5" cy="1121.3" rx="3.8" ry="2.9" transform="rotate(0 501.5 1121.3)" style="stroke-width:2.6"/>
<ellipse class="o" cx="501.5" cy="1120.2" rx="2" ry="1.1" transform="rotate(0 501.5 1120.2)" style="stroke-width:2"/>
<path class="w" d="M495.8,1103.8 L495.8,1108.9 Q511.1,1117.4 526.9,1108.9 L526.9,1103.8" style="stroke-width:2"/>
<path class="o" d="M496.4,1107.2 Q511.1,1116.3 526.3,1107.2" style="stroke-width:5"/>
<ellipse class="gw" cx="511.1" cy="1099.9" rx="15.8" ry="8.5" transform="rotate(0 511.1 1099.9)" style="stroke:#888;fill:#f4f4f4;stroke-width:1.6"/>
<ellipse class="g" cx="511.1" cy="1099.6" rx="13.3" ry="6.8" transform="rotate(0 511.1 1099.6)"/>
<ellipse class="g" cx="511.1" cy="1098.8" rx="5.1" ry="2.7" transform="rotate(0 511.1 1098.8)" style="stroke:#666"/>
<polyline class="g" points="503.2,1096.5 509.9,1103.8"/>
<polyline class="g" points="519,1096.5 512.2,1103.8"/>
<polyline class="g" points="503.2,1096.5 519,1096.5"/>
<path class="lg" d="M500,1194.9 L517.4,1157.2 Q524.7,1150.5 537.7,1152.8 Q545,1158.6 542.1,1168.8 L518.9,1199.3 L513.1,1199.8 Z" style="fill:#c9c9c9;stroke-width:1.8"/>
<path class="o" d="M537.7,1152.8 Q545,1158.6 542.1,1168.8 L518.9,1199.3" style="stroke-width:3"/>
<ellipse class="w" cx="519.5" cy="1175.2" rx="6.4" ry="8.7" transform="rotate(15 519.5 1175.2)" style="stroke-width:1.8"/>
<polygon class="w" points="502.9,1198.7 510.2,1199.8 504.4,1235.5 498,1234.1"/>
<path class="w" d="M485.5,1245.7 L491.3,1223 Q495.7,1218.1 502.9,1218.1 L513.1,1221 L531.1,1239.9 L524.1,1273.2 Q518.9,1277.6 510.8,1275.3 L487.5,1257.9 Z" style="stroke-width:1.6"/>
<path class="o" d="M513.1,1219 L533.4,1238.4 L527,1273.2 Q521.8,1279 513.1,1277"/>
<polygon class="gw" points="489.9,1223 501.5,1221.9 500,1237 491.3,1237.5"/>
<ellipse class="w" cx="495.7" cy="1251.5" rx="5.8" ry="8.1" transform="rotate(-15 495.7 1251.5)" style="stroke-width:1.8"/>
<ellipse class="o" cx="493.3" cy="1252.1" rx="2.9" ry="5.8" transform="rotate(-15 493.3 1252.1)"/>
<ellipse class="o" cx="519.5" cy="1240.4" rx="2.9" ry="4.4" transform="rotate(-15 519.5 1240.4)"/>
<circle class="o" cx="494.2" cy="1226.8" r="1.2"/>
<circle class="o" cx="506.7" cy="1231.2" r="1.2"/>
<circle class="o" cx="486.4" cy="1219" r="1.5"/>
<path d="M532.8,1232.3 L546.4,1227.4" fill="none" stroke="#1c1c1c" stroke-width="6" stroke-linecap="round" stroke-linejoin="round"/>
<path d="M532.8,1232.3 L546.4,1227.4" fill="none" stroke="#fff" stroke-width="3.6" stroke-linecap="round" stroke-linejoin="round"/>
<ellipse class="w" cx="547" cy="1227.1" rx="1.7" ry="2.9" transform="rotate(-20 547 1227.1)"/>
<ellipse class="w" cx="584.2" cy="1211.4" rx="27.6" ry="42.1" transform="rotate(-17 584.2 1211.4)" style="stroke-width:1.5"/>
<ellipse class="w" cx="579.8" cy="1209.4" rx="27.6" ry="42.1" transform="rotate(-17 579.8 1209.4)" style="stroke-width:1.5"/>
<ellipse class="o" cx="561.8" cy="1215.2" rx="5.2" ry="7.3" transform="rotate(-15 561.8 1215.2)"/>
<ellipse class="o" cx="578.3" cy="1213.8" rx="3.5" ry="4.9" transform="rotate(-15 578.3 1213.8)"/>
<circle class="k" cx="563.8" cy="1180.1" r="1.5"/>
<circle class="k" cx="599.2" cy="1208.5" r="1.5"/>
<ellipse class="k" cx="629.1" cy="1180" rx="7" ry="11.3" transform="rotate(-15 629.1 1180)" style="fill:#2e2e2e"/>
<ellipse class="k" cx="625.7" cy="1180.8" rx="6.5" ry="10.7" transform="rotate(-15 625.7 1180.8)" style="fill:#2e2e2e"/>
<ellipse class="k" cx="619.5" cy="1183.4" rx="6.1" ry="8.1" transform="rotate(-15 619.5 1183.4)" style="fill:#2e2e2e"/>
<ellipse class="o" cx="619" cy="1183.5" rx="4.5" ry="6.2" transform="rotate(-15 619 1183.5)" style="stroke:#fff;stroke-width:1.1"/>
<ellipse class="gw" cx="618.7" cy="1183.8" rx="2.7" ry="3.7" transform="rotate(-15 618.7 1183.8)" style="stroke:#222;fill:#ddd"/>
<polyline class="o" points="631.9,1177.2 631.9,1187.4" style="stroke:#fff;stroke-width:0.6"/>
<ellipse class="gw" cx="645.1" cy="1170.2" rx="5.2" ry="6.7" transform="rotate(-10 645.1 1170.2)"/>
<ellipse class="g" cx="645.1" cy="1170.2" rx="2.3" ry="3.2" transform="rotate(-10 645.1 1170.2)"/>
<path d="M597.8,1170.5 L607.5,1165.7" fill="none" stroke="#222" stroke-width="1.6" stroke-linecap="round" stroke-linejoin="round"/>
<polygon class="gw" points="606.8,1162.6 610.5,1160.3 613.9,1162 614.5,1165.9 611.1,1168.2 607.5,1166.9"/>
<polygon class="gw" points="413.6,1267.4 417.9,1264.5 423.1,1266.6 423.7,1272.4 419.1,1275.3 413.9,1272.9"/>
<circle class="g" cx="418.5" cy="1269.7" r="2.3"/>
<path d="M410.1,1315.3 L513.1,1266.8" fill="none" stroke="#1c1c1c" stroke-width="4.6" stroke-linecap="round" stroke-linejoin="round"/>
<path d="M410.1,1315.3 L513.1,1266.8" fill="none" stroke="#fff" stroke-width="2.2" stroke-linecap="round" stroke-linejoin="round"/>
<ellipse class="w" cx="513.7" cy="1266.6" rx="1.5" ry="2.3" transform="rotate(-25 513.7 1266.6)"/>
<path class="w" d="M367.4,1302.2 L372.4,1278.2 Q379.6,1271.2 389.8,1276.1 L410.1,1292.7 Q412.1,1300.8 408.6,1310.9 L397,1329.8 L370.9,1321.1 Z" style="stroke-width:1.6"/>
<path class="o" d="M370.9,1303.1 L375.3,1281.1 Q381.1,1275.3 388.3,1279.3 L406.3,1293.8 Q408.1,1300.8 405.2,1309.5 L395.6,1325.4"/>
<path d="M377.3,1309.5 L402.3,1300.2" fill="none" stroke="#1c1c1c" stroke-width="9" stroke-linecap="round" stroke-linejoin="round"/>
<path d="M377.3,1309.5 L402.3,1300.2" fill="none" stroke="#fff" stroke-width="6.6" stroke-linecap="round" stroke-linejoin="round"/>
<ellipse class="w" cx="377.3" cy="1309.5" rx="2.6" ry="3.8" transform="rotate(-15 377.3 1309.5)"/>
<ellipse class="o" cx="379.6" cy="1308.9" rx="1.7" ry="2.9" transform="rotate(-15 379.6 1308.9)"/>
<polyline class="ds" points="559,1218 668,1158"/>
<!-- parts_12_leftwheel.py -->
<polyline class="ds" points="237.9,1279.7 279.2,1349.3 286.9,1345.9"/>
<polyline class="ds" points="341.1,1360.9 359.1,1380.2 293.4,1415"/>
<ellipse class="w" cx="314" cy="1338.2" rx="27.1" ry="41.3" transform="rotate(-17 314 1338.2)" style="stroke-width:1.6"/>
<ellipse class="w" cx="308.8" cy="1340.3" rx="27.1" ry="41.3" transform="rotate(-17 308.8 1340.3)" style="stroke-width:1.6"/>
<ellipse class="g" cx="307" cy="1340.8" rx="24.5" ry="38.2" transform="rotate(-17 307 1340.8)"/>
<ellipse class="g" cx="298.5" cy="1342.8" rx="4.6" ry="7.2" transform="rotate(-15 298.5 1342.8)"/>
<ellipse class="g" cx="315.3" cy="1336.4" rx="2.6" ry="5.2" transform="rotate(-15 315.3 1336.4)"/>
<circle class="k" cx="326.9" cy="1324.8" r="1.3"/>
<circle class="k" cx="315.3" cy="1366.6" r="1.3"/>
<ellipse class="w" cx="349.8" cy="1322.7" rx="5.7" ry="7.5" transform="rotate(-15 349.8 1322.7)" style="stroke-width:2.4"/>
<ellipse class="o" cx="349.3" cy="1323" rx="2.6" ry="3.9" transform="rotate(-15 349.3 1323)" style="stroke-width:1.8"/>
<path d="M265,1362.7 L272.7,1359.1" fill="none" stroke="#1c1c1c" stroke-width="17" stroke-linecap="butt" stroke-linejoin="round"/>
<path d="M265,1362.7 L272.7,1359.1" fill="none" stroke="#fff" stroke-width="14" stroke-linecap="butt" stroke-linejoin="round"/>
<ellipse class="w" cx="273.5" cy="1358.8" rx="3.1" ry="8.3" transform="rotate(-15 273.5 1358.8)"/>
<ellipse class="w" cx="263.7" cy="1363.5" rx="6.2" ry="9" transform="rotate(-15 263.7 1363.5)" style="stroke-width:1.8"/>
<ellipse class="o" cx="263.7" cy="1363.5" rx="3.1" ry="5.2" transform="rotate(-15 263.7 1363.5)"/>
<polyline class="o" points="263.7,1358.3 266.3,1357.3"/>
<polyline class="o" points="263.7,1363.5 266.3,1362.4"/>
<polyline class="o" points="263.7,1368.6 266.3,1367.6"/>
<ellipse class="w" cx="217.6" cy="1384.6" rx="30.9" ry="41.3" transform="rotate(-15 217.6 1384.6)" style="stroke-width:2.4"/>
<polygon class="w" points="192.8,1345.9 213.4,1336.6 250.8,1391.8 228.9,1431.8 208.3,1432.1" style="stroke:none"/>
<polyline class="o" points="186.6,1347.7 204.4,1345.7" style="stroke-width:1.7"/>
<polyline class="o" points="193.3,1346.2 210.9,1344.1" style="stroke-width:1.7"/>
<polyline class="o" points="200,1346.7 217.8,1344.4" style="stroke-width:1.7"/>
<polyline class="o" points="207,1349.3 224.5,1346.7" style="stroke-width:1.7"/>
<polyline class="o" points="213.7,1353.7 231.2,1350.8" style="stroke-width:1.7"/>
<polyline class="o" points="219.6,1359.9 237.2,1356.5" style="stroke-width:1.7"/>
<polyline class="o" points="224.8,1367.3 242.1,1363.5" style="stroke-width:1.7"/>
<polyline class="o" points="228.6,1375.8 245.9,1371.5" style="stroke-width:1.7"/>
<polyline class="o" points="231.2,1384.9 248.2,1380.2" style="stroke-width:1.7"/>
<polyline class="o" points="232.5,1394.4 249.3,1389" style="stroke-width:1.7"/>
<polyline class="o" points="232,1403.4 248.8,1397.5" style="stroke-width:1.7"/>
<polyline class="o" points="230.2,1411.9 246.7,1405.8" style="stroke-width:1.7"/>
<polyline class="o" points="227.1,1419.4 243.3,1412.7" style="stroke-width:1.7"/>
<polyline class="o" points="222.5,1425.3 239,1418.4" style="stroke-width:1.7"/>
<polyline class="o" points="216.8,1429.5 233.3,1422.5" style="stroke-width:1.7"/>
<ellipse class="g" cx="209" cy="1386.9" rx="30.9" ry="42.5" transform="rotate(-15 209 1386.9)"/>
<ellipse class="g" cx="212.9" cy="1385.9" rx="30.9" ry="42" transform="rotate(-15 212.9 1385.9)"/>
<ellipse class="w" cx="200.5" cy="1389.2" rx="30.9" ry="43.8" transform="rotate(-15 200.5 1389.2)" style="stroke-width:2.6"/>
<ellipse class="g" cx="201.8" cy="1390" rx="22.7" ry="33" transform="rotate(-15 201.8 1390)"/>
<ellipse class="g" cx="202.6" cy="1390.3" rx="20.6" ry="30.4" transform="rotate(-15 202.6 1390.3)"/>
<ellipse class="g" cx="206.2" cy="1389.2" rx="8.8" ry="12.4" transform="rotate(-15 206.2 1389.2)"/>
<ellipse class="g" cx="206.2" cy="1389.2" rx="5.2" ry="7.7" transform="rotate(-15 206.2 1389.2)"/>
<polyline class="g" points="215,1389.2 223.2,1390.3"/>
<polyline class="g" points="212.4,1398 217.3,1411.7"/>
<polyline class="g" points="206.2,1401.6 202.6,1420.7"/>
<polyline class="g" points="200,1398 187.9,1411.7"/>
<polyline class="g" points="197.4,1389.2 182,1390.3"/>
<polyline class="g" points="200,1380.5 187.9,1368.9"/>
<polyline class="g" points="206.2,1376.9 202.6,1359.9"/>
<polyline class="g" points="212.4,1380.5 217.3,1368.9"/>
<ellipse class="w" cx="101.3" cy="1438.5" rx="24.5" ry="30.9" transform="rotate(-15 101.3 1438.5)" style="stroke-width:1.3"/>
<ellipse class="w" cx="98.2" cy="1439.8" rx="24.5" ry="30.9" transform="rotate(-15 98.2 1439.8)" style="stroke-width:1.5"/>
<polygon class="k" points="124.5,1421.5 129.1,1416.3 136.8,1417.6 140.5,1424.1 136.8,1431.8 128.3,1432.6"/>
<ellipse class="m" cx="129.6" cy="1425.9" rx="5.2" ry="6.2" transform="rotate(-10 129.6 1425.9)" style="fill:#777"/>
<ellipse class="k" cx="128.6" cy="1426.4" rx="2.6" ry="3.4" transform="rotate(-10 128.6 1426.4)"/>
<ellipse class="w" cx="150.8" cy="1417.1" rx="5.4" ry="7" transform="rotate(-15 150.8 1417.1)" style="stroke-width:2.6"/>
<ellipse class="o" cx="149.7" cy="1418.1" rx="2.3" ry="3.4" transform="rotate(-15 149.7 1418.1)" style="stroke-width:1.8"/>
<ellipse class="w" cx="85.3" cy="1349.5" rx="4.6" ry="5.8" transform="rotate(-15 85.3 1349.5)" style="stroke-width:3"/>
<ellipse class="o" cx="84.8" cy="1349.8" rx="2" ry="2.8" transform="rotate(-15 84.8 1349.8)" style="stroke-width:2.2"/>
<ellipse class="gw" cx="104.4" cy="1341.9" rx="6.4" ry="8.4" transform="rotate(-15 104.4 1341.9)"/>
<ellipse class="g" cx="105.5" cy="1341.5" rx="2.8" ry="3.8" transform="rotate(-15 105.5 1341.5)"/>
<polyline class="g" points="102.9,1338 108.3,1335.7"/>
<ellipse class="w" cx="120.5" cy="1332.7" rx="4.9" ry="5.8" transform="rotate(-15 120.5 1332.7)" style="stroke-width:2.6"/>
<ellipse class="o" cx="120.2" cy="1333" rx="2.6" ry="3.4" transform="rotate(-15 120.2 1333)" style="stroke-width:2"/>
<ellipse class="g" cx="120.2" cy="1333" rx="3.7" ry="4.6" transform="rotate(-15 120.2 1333)"/>
<path class="w" d="M142,1308.2 Q149.6,1303.6 155.7,1307.4 Q162.6,1314.3 163.7,1325 L157.3,1329.9 L145,1335.1 L137.4,1311.2 Z" style="stroke-width:2"/>
<polygon class="k" points="157.6,1317.4 163.7,1320.7 162.8,1326.5 157.3,1329.9"/>
<polygon class="k" points="139.2,1311.5 140.6,1311.1 144.1,1332.2 142.6,1333"/>
<polygon class="k" points="141.8,1310.9 143.2,1310.5 146.7,1331.6 145.2,1332.4"/>
<polygon class="k" points="144.4,1310.3 145.8,1309.9 149.3,1331 147.8,1331.8"/>
<polygon class="k" points="147,1309.7 148.4,1309.2 151.9,1330.4 150.4,1331.1"/>
<polygon class="k" points="149.6,1309.1 151,1308.6 154.5,1329.8 153,1330.5"/>
<polygon class="k" points="152.2,1308.5 153.6,1308 157.1,1329.1 155.6,1329.9"/>
<ellipse class="w" cx="138.1" cy="1325" rx="7" ry="9.5" transform="rotate(-15 138.1 1325)" style="stroke-width:2"/>
<ellipse class="k" cx="145.8" cy="1325" rx="1.2" ry="1.4" transform="rotate(0 145.8 1325)"/>
<ellipse class="k" cx="144.8" cy="1330.1" rx="1.2" ry="1.4" transform="rotate(0 144.8 1330.1)"/>
<ellipse class="k" cx="142" cy="1333.8" rx="1.2" ry="1.4" transform="rotate(0 142 1333.8)"/>
<ellipse class="k" cx="138.1" cy="1335.1" rx="1.2" ry="1.4" transform="rotate(0 138.1 1335.1)"/>
<ellipse class="k" cx="134.3" cy="1333.8" rx="1.2" ry="1.4" transform="rotate(0 134.3 1333.8)"/>
<ellipse class="k" cx="131.5" cy="1330.1" rx="1.2" ry="1.4" transform="rotate(0 131.5 1330.1)"/>
<ellipse class="k" cx="130.5" cy="1325" rx="1.2" ry="1.4" transform="rotate(0 130.5 1325)"/>
<ellipse class="k" cx="131.5" cy="1320" rx="1.2" ry="1.4" transform="rotate(0 131.5 1320)"/>
<ellipse class="k" cx="134.3" cy="1316.3" rx="1.2" ry="1.4" transform="rotate(0 134.3 1316.3)"/>
<ellipse class="k" cx="138.1" cy="1314.9" rx="1.2" ry="1.4" transform="rotate(0 138.1 1314.9)"/>
<ellipse class="k" cx="142" cy="1316.3" rx="1.2" ry="1.4" transform="rotate(0 142 1316.3)"/>
<ellipse class="k" cx="144.8" cy="1320" rx="1.2" ry="1.4" transform="rotate(0 144.8 1320)"/>
<ellipse class="o" cx="138.4" cy="1325.8" rx="2.3" ry="3.4" transform="rotate(-15 138.4 1325.8)" style="stroke-width:2"/>
<ellipse class="w" cx="171.8" cy="1308.9" rx="4.6" ry="5.8" transform="rotate(-15 171.8 1308.9)" style="stroke-width:2.4"/>
<ellipse class="o" cx="171.5" cy="1309.2" rx="2.4" ry="3.4" transform="rotate(-15 171.5 1309.2)" style="stroke-width:1.8"/>
<ellipse class="g" cx="171.7" cy="1309.1" rx="3.5" ry="4.6" transform="rotate(-15 171.7 1309.1)"/>
<ellipse class="w" cx="197.1" cy="1297.8" rx="4.6" ry="9.2" transform="rotate(-15 197.1 1297.8)" style="stroke:#333;stroke-width:1.4"/>
<ellipse class="w" cx="191.7" cy="1299.8" rx="7.3" ry="9.8" transform="rotate(-15 191.7 1299.8)" style="stroke:#333;stroke-width:1.4"/>
<polyline class="o" points="193.9,1299.8 197.2,1299.8" style="stroke-width:1.6"/>
<polyline class="o" points="193.7,1300.8 196.8,1302.8" style="stroke-width:1.6"/>
<polyline class="o" points="193.1,1301.7 195.4,1305.4" style="stroke-width:1.6"/>
<polyline class="o" points="192.3,1302.4 193.4,1307.1" style="stroke-width:1.6"/>
<polyline class="o" points="191.6,1302.5 191.1,1307.4" style="stroke-width:1.6"/>
<polyline class="o" points="190.6,1302.2 189,1306.3" style="stroke-width:1.6"/>
<polyline class="o" points="190,1301.4 187.3,1304.2" style="stroke-width:1.6"/>
<polyline class="o" points="189.6,1300.4 186.4,1301.3" style="stroke-width:1.6"/>
<polyline class="o" points="189.6,1299.1 186.4,1298.2" style="stroke-width:1.6"/>
<polyline class="o" points="190,1298.1 187.3,1295.3" style="stroke-width:1.6"/>
<polyline class="o" points="190.6,1297.3 189,1293.2" style="stroke-width:1.6"/>
<polyline class="o" points="191.6,1297 191.1,1292.1" style="stroke-width:1.6"/>
<polyline class="o" points="192.3,1297.2 193.4,1292.4" style="stroke-width:1.6"/>
<polyline class="o" points="193.1,1297.8 195.4,1294.1" style="stroke-width:1.6"/>
<polyline class="o" points="193.7,1298.7 196.8,1296.7" style="stroke-width:1.6"/>
<path class="k" d="M217,1276.8 L224.6,1277.6 Q229.2,1280.6 229.2,1286.7 L224.6,1294.4 L217.7,1298.2 Z"/>
<ellipse class="k" cx="217.7" cy="1287.5" rx="10.4" ry="11" transform="rotate(-15 217.7 1287.5)"/>
<ellipse class="o" cx="216.7" cy="1288" rx="7.7" ry="8.4" transform="rotate(-15 216.7 1288)" style="stroke:#bbb;stroke-width:1.2"/>
<ellipse class="o" cx="215.7" cy="1288.3" rx="5.5" ry="6.1" transform="rotate(-15 215.7 1288.3)" style="stroke:#bbb;stroke-width:1.2"/>
<ellipse class="gw" cx="215.1" cy="1288.6" rx="3.7" ry="4.3" transform="rotate(-15 215.1 1288.6)" style="stroke:#222"/>
<ellipse class="o" cx="215.1" cy="1288.6" rx="2.1" ry="2.6" transform="rotate(-15 215.1 1288.6)" style="stroke:#888"/>
<polygon class="gw" points="235.6,1271.4 239.2,1268.1 244.5,1269.6 247.3,1275.3 244.5,1281.4 238.4,1280.6"/>
<ellipse class="g" cx="241.5" cy="1274.8" rx="3.4" ry="4.1" transform="rotate(-10 241.5 1274.8)"/>
<polygon class="gw" points="299.3,1407.8 303.7,1405.2 307.6,1407.3 307.6,1412.5 302.9,1415 299.8,1412.5"/>
<path d="M307.6,1408.6 L317.3,1404.2" fill="none" stroke="#555" stroke-width="2.2" stroke-linecap="round" stroke-linejoin="round"/>
<polyline class="ds" points="69,1357.8 235.3,1275.8"/>
<polyline class="ds" points="78.1,1452.4 379.8,1309.8"/>
<!-- parts_13_rightwheel.py -->
<path d="M746.8,1211 L765.5,1200.4 L782.3,1199.5 L923.2,1258 L929.4,1266.9 L921.5,1272.2" fill="none" stroke="#909090" stroke-width="5" stroke-linecap="butt" stroke-linejoin="miter"/>
<path d="M746.8,1211 L765.5,1200.4 L782.3,1199.5 L923.2,1258 L929.4,1266.9 L921.5,1272.2" fill="none" stroke="#fff" stroke-width="3.3" stroke-linecap="butt" stroke-linejoin="miter"/>
<polyline class="g" points="765.5,1202.7 781.4,1202 920.6,1260.1" style="stroke:#aaa;stroke-width:0.7"/>
<path d="M775,1137.5 L775,1145.5" fill="none" stroke="#777" stroke-width="4.5" stroke-linecap="round" stroke-linejoin="round"/>
<path d="M775,1137.5 L775,1145.5" fill="none" stroke="#fff" stroke-width="2.7" stroke-linecap="round" stroke-linejoin="round"/>
<ellipse class="gw" cx="775" cy="1147.5" rx="5.5" ry="2.5" transform="rotate(0 775 1147.5)" style="stroke:#777"/>
<ellipse class="gw" cx="775" cy="1137.5" rx="2.2" ry="1.2" transform="rotate(0 775 1137.5)" style="stroke:#777"/>
<path d="M816.5,1160 L816.5,1168" fill="none" stroke="#777" stroke-width="4.5" stroke-linecap="round" stroke-linejoin="round"/>
<path d="M816.5,1160 L816.5,1168" fill="none" stroke="#fff" stroke-width="2.7" stroke-linecap="round" stroke-linejoin="round"/>
<ellipse class="gw" cx="816.5" cy="1170" rx="5.5" ry="2.5" transform="rotate(0 816.5 1170)" style="stroke:#777"/>
<ellipse class="gw" cx="816.5" cy="1160" rx="2.2" ry="1.2" transform="rotate(0 816.5 1160)" style="stroke:#777"/>
<ellipse class="w" cx="795.2" cy="1347.3" rx="6.4" ry="8.5" transform="rotate(-20 795.2 1347.3)" style="stroke:#444;stroke-width:1.6"/>
<ellipse class="g" cx="794.7" cy="1347.5" rx="4.9" ry="6.7" transform="rotate(-20 794.7 1347.5)"/>
<ellipse class="o" cx="793.9" cy="1348" rx="2.6" ry="3.9" transform="rotate(-20 793.9 1348)"/>
<path d="M817.9,1333.6 L833.4,1324.8" fill="none" stroke="#1c1c1c" stroke-width="7.5" stroke-linecap="round" stroke-linejoin="round"/>
<path d="M817.9,1333.6 L833.4,1324.8" fill="none" stroke="#fff" stroke-width="5.1" stroke-linecap="round" stroke-linejoin="round"/>
<polyline class="o" points="818.7,1330 820.7,1336.2"/>
<polyline class="o" points="820.7,1328.8 822.8,1335"/>
<polyline class="o" points="822.8,1327.7 824.9,1333.9"/>
<polyline class="o" points="824.9,1326.5 826.9,1332.7"/>
<polyline class="o" points="826.9,1325.3 829,1331.5"/>
<polyline class="o" points="829,1324.2 831,1330.4"/>
<path class="w" d="M826.9,1320.7 L833.4,1316.6 L848.8,1315 L861,1330.5 L855.8,1340.8 L847.6,1338.2 L832.1,1326.4 Z" style="stroke-width:1.5"/>
<path class="o" d="M833.4,1316.6 L835.9,1322.3 L854,1336.2 L855.8,1340.8"/>
<path class="o" d="M854,1333.6 Q856.6,1331.8 857.3,1335.1"/>
<path d="M859,1331 L978,1262" fill="none" stroke="#1c1c1c" stroke-width="4.8" stroke-linecap="butt" stroke-linejoin="round"/>
<path d="M859,1331 L978,1262" fill="none" stroke="#fff" stroke-width="2" stroke-linecap="butt" stroke-linejoin="round"/>
<ellipse class="w" cx="755" cy="1374.9" rx="30.4" ry="41.3" transform="rotate(-15 755 1374.9)" style="stroke-width:2.4"/>
<polygon class="w" points="730.2,1336.2 750.9,1327.9 784.4,1382.1 763.7,1420.8 745.7,1422.3" style="stroke:none"/>
<polyline class="o" points="724,1338 741.8,1335.9" style="stroke-width:1.7"/>
<polyline class="o" points="730.5,1336.4 748.3,1334.4" style="stroke-width:1.7"/>
<polyline class="o" points="737.4,1337 755,1334.6" style="stroke-width:1.7"/>
<polyline class="o" points="744.1,1339.5 761.7,1337" style="stroke-width:1.7"/>
<polyline class="o" points="750.6,1343.9 768.1,1341.1" style="stroke-width:1.7"/>
<polyline class="o" points="756.5,1350.1 774.1,1346.8" style="stroke-width:1.7"/>
<polyline class="o" points="761.7,1357.6 779,1353.7" style="stroke-width:1.7"/>
<polyline class="o" points="765.5,1366.1 782.8,1362" style="stroke-width:1.7"/>
<polyline class="o" points="768.1,1375.4 785.1,1370.5" style="stroke-width:1.7"/>
<polyline class="o" points="769.4,1384.7 786.2,1379.2" style="stroke-width:1.7"/>
<polyline class="o" points="769.2,1393.9 785.7,1388" style="stroke-width:1.7"/>
<polyline class="o" points="767.4,1402.2 783.9,1396" style="stroke-width:1.7"/>
<polyline class="o" points="764,1409.7 780.5,1403" style="stroke-width:1.7"/>
<polyline class="o" points="759.6,1415.6 776.1,1408.6" style="stroke-width:1.7"/>
<polyline class="o" points="754.2,1419.7 770.7,1412.8" style="stroke-width:1.7"/>
<ellipse class="g" cx="746.5" cy="1377.2" rx="30.4" ry="42.5" transform="rotate(-15 746.5 1377.2)"/>
<ellipse class="g" cx="750.3" cy="1376.1" rx="30.4" ry="42" transform="rotate(-15 750.3 1376.1)"/>
<ellipse class="w" cx="738" cy="1379.5" rx="30.4" ry="43.8" transform="rotate(-15 738 1379.5)" style="stroke-width:2.6"/>
<ellipse class="g" cx="739.2" cy="1380.3" rx="22.2" ry="33" transform="rotate(-15 739.2 1380.3)"/>
<ellipse class="g" cx="740" cy="1380.5" rx="20.1" ry="30.4" transform="rotate(-15 740 1380.5)"/>
<ellipse class="g" cx="743.6" cy="1379.5" rx="8.8" ry="12.4" transform="rotate(-15 743.6 1379.5)"/>
<ellipse class="g" cx="743.6" cy="1379.5" rx="5.2" ry="7.7" transform="rotate(-15 743.6 1379.5)"/>
<polyline class="g" points="752.4,1379.5 760.1,1380.5"/>
<polyline class="g" points="749.8,1388.3 754.2,1401.9"/>
<polyline class="g" points="743.6,1391.9 740,1411"/>
<polyline class="g" points="737.4,1388.3 725.8,1401.9"/>
<polyline class="g" points="734.9,1379.5 719.9,1380.5"/>
<polyline class="g" points="737.4,1370.7 725.8,1359.1"/>
<polyline class="g" points="743.6,1367.1 740,1350.1"/>
<polyline class="g" points="749.8,1370.7 754.2,1359.1"/>
<polygon class="w" points="684.6,1406.6 689,1401.4 696.7,1402.2 701.1,1407.9 699.3,1415.6 690.3,1417.7 685.6,1413" style="stroke-width:1.8"/>
<ellipse class="m" cx="690.3" cy="1409.2" rx="4.4" ry="5.2" transform="rotate(-10 690.3 1409.2)" style="fill:#aaa"/>
<ellipse class="gw" cx="690.3" cy="1409.2" rx="2.6" ry="3.1" transform="rotate(-10 690.3 1409.2)"/>
<ellipse class="w" cx="648.2" cy="1433.7" rx="23.7" ry="28.9" transform="rotate(-15 648.2 1433.7)" style="stroke-width:1.3"/>
<ellipse class="w" cx="645.1" cy="1434.9" rx="23.7" ry="28.9" transform="rotate(-15 645.1 1434.9)" style="stroke-width:1.5"/>
<polyline class="o" points="659.3,1413 661.4,1415.6"/>
<path d="M963,1245.2 L985.2,1235.4" fill="none" stroke="#1c1c1c" stroke-width="3.6" stroke-linecap="round" stroke-linejoin="round"/>
<path d="M963,1245.2 L985.2,1235.4" fill="none" stroke="#fff" stroke-width="1.2" stroke-linecap="round" stroke-linejoin="round"/>
<polyline class="o" points="981.1,1234.4 982.6,1238"/>
<polyline class="o" points="982.6,1233.6 984.2,1237.2"/>
<polyline class="o" points="984.2,1232.8 985.7,1236.4"/>
<path d="M960.5,1248.3 L981.1,1259.6" fill="none" stroke="#1c1c1c" stroke-width="8.2" stroke-linecap="round" stroke-linejoin="round"/>
<path d="M960.5,1248.3 L981.1,1259.6" fill="none" stroke="#fff" stroke-width="5.8" stroke-linecap="round" stroke-linejoin="round"/>
<ellipse class="o" cx="981.1" cy="1259.6" rx="2.3" ry="3.6" transform="rotate(-10 981.1 1259.6)"/>
<path class="w" d="M990.9,1342.1 L991.4,1361.5 C1001.2,1379.5 1029.6,1388.6 1057.9,1386.5 C1086.3,1380.8 1099.2,1360.2 1098.7,1342.1 L1097.9,1329.2 C1091.4,1313.8 1065.7,1304.7 1034.7,1307.3 L1030.9,1309.9 L1008.9,1300.9 L999.9,1285.4 L978,1278.4 L974.1,1280.3 L972.8,1326.7 L963.8,1309.9 L941.9,1301.4 L938,1303.5 L938,1335.7 L990.9,1355 Z" style="stroke-width:1.6"/>
<path class="o" d="M974.1,1280.3 L974.1,1311.2 L1029.6,1328 L1029.6,1309.9"/>
<polyline class="o" points="978,1278.4 978,1280.3"/>
<path class="o" d="M999.9,1285.4 L997.3,1287.5 L1006.4,1303.5 L1029.6,1312.5"/>
<path class="o" d="M990.9,1342.1 C996,1357.6 1024.4,1367.9 1055.3,1366.6 C1083.7,1362.8 1097.9,1344.7 1097.9,1329.2" style="stroke-width:1.6"/>
<path class="o" d="M991.4,1338.3 L972.8,1326.7"/>
<path class="o" d="M938,1303.5 L941.9,1306 L962,1313.8 L970.8,1330.5 L993.5,1342.1"/>
<path class="o" d="M1008.9,1344.7 C1019.2,1360.2 1039.9,1362.8 1057.9,1360.7 C1076,1357.6 1088.9,1344.7 1090.9,1329.2 C1086.3,1318.9 1070.8,1311.2 1057.9,1309.9"/>
<path class="o" d="M1001.2,1340.9 L1008.9,1344.7 L1010.2,1355"/>
<path class="w" d="M1041.2,1311.2 L1041.2,1328 Q1048.9,1331.3 1057.4,1328 L1057.4,1311.2"/>
<ellipse class="w" cx="1049.2" cy="1310.7" rx="8.3" ry="3.6" transform="rotate(0 1049.2 1310.7)"/>
<ellipse class="o" cx="1049.2" cy="1310.7" rx="3.6" ry="1.5" transform="rotate(0 1049.2 1310.7)"/>
<polyline class="o" points="1045,1313.8 1045,1328.7"/>
<polyline class="o" points="1052.3,1313.8 1052.3,1329.2"/>
<path class="o" d="M1029.6,1311.2 L1041.2,1313.3"/>
<polyline class="o" points="1034.7,1312.5 1034.7,1327.2"/>
<ellipse class="w" cx="1043.7" cy="1349.4" rx="14.4" ry="8.5" transform="rotate(0 1043.7 1349.4)" style="stroke-width:1.5"/>
<path class="o" d="M1030.9,1351.9 Q1043.7,1344.7 1057.9,1351.2"/>
<ellipse class="o" cx="1002.5" cy="1344.2" rx="3.6" ry="2.6" transform="rotate(0 1002.5 1344.2)"/>
<ellipse class="o" cx="1002.5" cy="1344.2" rx="1.8" ry="1.3" transform="rotate(0 1002.5 1344.2)"/>
<ellipse class="o" cx="1069.5" cy="1353" rx="3.6" ry="2.8" transform="rotate(0 1069.5 1353)"/>
<ellipse class="o" cx="1069.5" cy="1353" rx="1.8" ry="1.5" transform="rotate(0 1069.5 1353)"/>
<polygon class="gw" points="1064.6,1284.1 1068.8,1280 1075.5,1280.5 1078.6,1285.7 1078,1292.4 1073.4,1296 1066.7,1293.9"/>
<ellipse class="g" cx="1071.3" cy="1286.2" rx="4.6" ry="4.1" transform="rotate(0 1071.3 1286.2)"/>
<ellipse class="g" cx="1071.3" cy="1286.2" rx="2.1" ry="1.8" transform="rotate(0 1071.3 1286.2)"/>
<polygon class="gw" points="1063.6,1395.8 1067.7,1391.7 1074.4,1392.2 1077.5,1397.3 1077,1404 1072.4,1407.6 1065.7,1405.6"/>
<ellipse class="g" cx="1070.3" cy="1397.8" rx="4.6" ry="4.1" transform="rotate(0 1070.3 1397.8)"/>
<ellipse class="g" cx="1070.3" cy="1397.8" rx="2.1" ry="1.8" transform="rotate(0 1070.3 1397.8)"/>
<path class="w" d="M1092,1396.3 Q1086.3,1400.2 1089.4,1406.6 L1094,1409.2 Z" style="stroke-width:1.5"/>
<ellipse class="w" cx="1045.8" cy="1404.8" rx="5.9" ry="3.9" transform="rotate(0 1045.8 1404.8)" style="stroke-width:2.4"/>
<ellipse class="o" cx="1045.8" cy="1404.8" rx="2.6" ry="1.5" transform="rotate(0 1045.8 1404.8)" style="stroke-width:1.8"/>
<!-- parts_14_blade.py -->
<path class="w" d="M1031.5,1424 L1031.5,1452.8 Q1045,1462.9 1058.6,1452.8 L1058.6,1424" style="stroke-width:1.8"/>
<polyline class="o" points="1036.6,1430.8 1036.6,1456.1" style="stroke-width:1.6"/>
<polyline class="o" points="1041.7,1430.8 1041.7,1456.1" style="stroke-width:1.6"/>
<polyline class="o" points="1048.4,1430.8 1048.4,1456.1" style="stroke-width:1.6"/>
<polyline class="o" points="1053.5,1430.8 1053.5,1456.1" style="stroke-width:1.6"/>
<polyline class="o" points="1031.5,1430.8 1058.6,1452.8" style="stroke-width:1.5"/>
<polyline class="o" points="1058.6,1430.8 1031.5,1452.8" style="stroke-width:1.5"/>
<path class="o" d="M1031.5,1449.4 Q1045,1459.5 1058.6,1449.4" style="stroke-width:2.2"/>
<ellipse class="w" cx="1045" cy="1424" rx="13.9" ry="6.1" transform="rotate(0 1045 1424)" style="stroke-width:2.2"/>
<ellipse class="k" cx="1045" cy="1423.3" rx="7.4" ry="3" transform="rotate(0 1045 1423.3)"/>
<ellipse class="gw" cx="1045" cy="1423" rx="4.1" ry="1.7" transform="rotate(0 1045 1423)"/>
<path class="w" d="M964.8,1452.8 L968.9,1450.4 L985.8,1447.7 L1007.8,1456.1 L1018,1454.5 L1106,1493.4 L1107,1485.6 L1117.8,1489 L1124.6,1495.1 L1122.9,1502.5 L1111,1512.7 L1089,1505.2 L1080.6,1496.8 L1023,1481.5 L1018,1474.8 L992.6,1466.3 L987.5,1461.2 L968.2,1459.5 Z" style="stroke-width:1.6"/>
<polyline class="o" points="968.9,1455.1 987.5,1457.8 996,1461.2"/>
<polyline class="o" points="1082.3,1495.1 1106,1493.4"/>
<polyline class="o" points="1106,1496.8 1116.1,1496.8"/>
<path d="M985.1,1447.7 L1001,1451.7" fill="none" stroke="#1c1c1c" stroke-width="3.2" stroke-linecap="round" stroke-linejoin="round"/>
<path d="M1090.7,1505.9 L1110.4,1512.7" fill="none" stroke="#1c1c1c" stroke-width="3.2" stroke-linecap="round" stroke-linejoin="round"/>
<ellipse class="o" cx="1045" cy="1474.1" rx="6.1" ry="2.7" transform="rotate(-15 1045 1474.1)" style="stroke-width:1.6"/>
<polyline class="o" points="996,1461.2 1016.3,1466.3"/>
<ellipse class="w" cx="1045.7" cy="1506.9" rx="14.9" ry="8.5" transform="rotate(0 1045.7 1506.9)" style="stroke-width:2"/>
<path class="w" d="M1030.8,1506.9 L1030.8,1511.3 Q1045.7,1522.1 1060.6,1511.3 L1060.6,1506.9" style="stroke-width:2"/>
<ellipse class="w" cx="1045.7" cy="1506.9" rx="14.9" ry="8.5" transform="rotate(0 1045.7 1506.9)" style="stroke-width:2"/>
<ellipse class="o" cx="1044" cy="1504.5" rx="7.4" ry="4.1" transform="rotate(0 1044 1504.5)" style="stroke-width:1.8"/>
<ellipse class="w" cx="1045" cy="1533" rx="8.5" ry="5.1" transform="rotate(0 1045 1533)" style="stroke-width:2.6"/>
<ellipse class="o" cx="1045" cy="1534" rx="8.5" ry="5.1" transform="rotate(0 1045 1534)" style="stroke-width:1.5"/>
<ellipse class="o" cx="1045" cy="1532.3" rx="3.7" ry="2" transform="rotate(0 1045 1532.3)" style="stroke-width:1.6"/>
<path d="M1043.7,1554.3 L1043.7,1574.6" fill="none" stroke="#555" stroke-width="4.2" stroke-linecap="round" stroke-linejoin="round"/>
<path d="M1043.7,1554.3 L1043.7,1574.6" fill="none" stroke="#fff" stroke-width="2" stroke-linecap="round" stroke-linejoin="round"/>
<polyline class="g" points="1041,1556.6 1046.4,1557.3" style="stroke:#555"/>
<polyline class="g" points="1041,1559.4 1046.4,1560" style="stroke:#555"/>
<polyline class="g" points="1041,1562.1 1046.4,1562.7" style="stroke:#555"/>
<polyline class="g" points="1041,1564.8 1046.4,1565.4" style="stroke:#555"/>
<polyline class="g" points="1041,1567.5 1046.4,1568.2" style="stroke:#555"/>
<polyline class="g" points="1041,1570.2 1046.4,1570.9" style="stroke:#555"/>
<polyline class="g" points="1041,1572.9 1046.4,1573.6" style="stroke:#555"/>
<ellipse class="w" cx="1044" cy="1578" rx="8.8" ry="3.4" transform="rotate(0 1044 1578)" style="stroke-width:1.8"/>
<path class="w" d="M1036.6,1579.7 L1038.3,1587.1 Q1044,1590.5 1050.1,1587.1 L1051.8,1579.7" style="stroke-width:1.8"/>
<ellipse class="w" cx="1044" cy="1578" rx="8.8" ry="3.4" transform="rotate(0 1044 1578)" style="stroke-width:1.8"/>
<ellipse class="k" cx="1044" cy="1577" rx="4.1" ry="2" transform="rotate(0 1044 1577)"/>
<!-- parts_15_misc.py -->
<path class="k" d="M767.1,1114.3 L772.4,1105.6 L781.6,1110.9 L784,1101.3 Q786.4,1097.4 790.3,1096.9 Q795.1,1096.9 798,1098.9 L805.8,1106.1 L812,1116.7 L811.6,1128.3 L811.6,1133.7 L826.1,1143.8 L820.3,1153 L808.7,1145.8 L805.8,1146.7 L795.1,1141.9 L786.4,1134.1 L781.6,1126.4 L778.2,1124 Z" style="fill:#2e2e2e;stroke:#2e2e2e"/>
<path class="w" d="M789.5,1109 Q792.2,1106.1 797,1110 L806.7,1122.5 L812,1120.1 L812.5,1122.5 Q809.6,1127.4 803.8,1126.4 Q794.1,1120.6 789.5,1109 Z" style="stroke:none"/>
<polygon class="w" points="773.4,1111.9 776,1110.7 778.9,1113.4 776.7,1116 773.8,1114.8" style="stroke:none"/>
<polygon class="w" points="815.4,1142.9 817.8,1141.7 820.4,1144 818.5,1146.9 815.9,1145.8" style="stroke:none"/>
<ellipse class="gw" cx="212.9" cy="1058" rx="2.3" ry="6.1" transform="rotate(12 212.9 1058)" style="stroke:#707070;stroke-width:1.5"/>
<ellipse class="gw" cx="216.9" cy="1057.7" rx="2.3" ry="6.1" transform="rotate(12 216.9 1057.7)" style="stroke:#707070;stroke-width:1.5"/>
<ellipse class="gw" cx="220.8" cy="1057.4" rx="2.3" ry="6.1" transform="rotate(12 220.8 1057.4)" style="stroke:#707070;stroke-width:1.5"/>
<ellipse class="gw" cx="224.7" cy="1057.1" rx="2.3" ry="6.1" transform="rotate(12 224.7 1057.1)" style="stroke:#707070;stroke-width:1.5"/>
<ellipse class="gw" cx="228.6" cy="1056.8" rx="2.3" ry="6.1" transform="rotate(12 228.6 1056.8)" style="stroke:#707070;stroke-width:1.5"/>
<ellipse class="gw" cx="232.5" cy="1056.6" rx="2.3" ry="6.1" transform="rotate(12 232.5 1056.6)" style="stroke:#707070;stroke-width:1.5"/>
<ellipse class="gw" cx="236.4" cy="1056.3" rx="2.3" ry="6.1" transform="rotate(12 236.4 1056.3)" style="stroke:#707070;stroke-width:1.5"/>
<path class="g" d="M210,1062.1 L206.4,1064.2 L197.7,1063.5 Q194.8,1061.3 198.4,1058.9" style="stroke:#707070;stroke-width:1.5"/>
<path class="g" d="M239.1,1054.8 L241.2,1051.2 L249.2,1050.5 Q253.6,1052.6 248.5,1057" style="stroke:#707070;stroke-width:1.5"/>
<ellipse class="gw" cx="295.2" cy="1189.7" rx="4.6" ry="2" transform="rotate(15 295.2 1189.7)" style="stroke:#707070;stroke-width:1.5"/>
<ellipse class="gw" cx="295.2" cy="1192.9" rx="4.6" ry="2" transform="rotate(15 295.2 1192.9)" style="stroke:#707070;stroke-width:1.5"/>
<ellipse class="gw" cx="295.2" cy="1196.1" rx="4.6" ry="2" transform="rotate(15 295.2 1196.1)" style="stroke:#707070;stroke-width:1.5"/>
<ellipse class="gw" cx="295.2" cy="1199.3" rx="4.6" ry="2" transform="rotate(15 295.2 1199.3)" style="stroke:#707070;stroke-width:1.5"/>
<ellipse class="gw" cx="295.2" cy="1202.5" rx="4.6" ry="2" transform="rotate(15 295.2 1202.5)" style="stroke:#707070;stroke-width:1.5"/>
<ellipse class="gw" cx="295.2" cy="1205.7" rx="4.6" ry="2" transform="rotate(15 295.2 1205.7)" style="stroke:#707070;stroke-width:1.5"/>
<path class="g" d="M291.3,1188.3 L289.8,1184.6 Q291.3,1181 294.9,1182.2" style="stroke:#707070;stroke-width:1.5"/>
<path class="g" d="M298.5,1207.1 L300.7,1210 Q299.3,1214.4 294.9,1212.2" style="stroke:#707070;stroke-width:1.5"/>
<g class="ld">
<polyline points="272,138 288,138 317,164"/>
<polyline points="545,144 500,144 446.5,168.5"/>
<polyline points="194,181 214,181 244,225"/>
<polyline points="531,210.5 512.5,210.5 491,231"/>
<polyline points="209.5,277 299,277"/>
<polyline points="556,266 532.5,266 440,355"/>
<polyline points="185,333 206,333 206,374"/>
<polyline points="305,340 377.5,340 420,327.5"/>
<polyline points="305,369 380,369"/>
<polyline points="622.5,348.5 575,348.5"/>
<polyline points="280,444 302.5,444 334,420"/>
<polyline points="623.5,411 600,411 562.5,435"/>
<polyline points="623,445 600,445 580,457 540,459"/>
<polyline points="366,477.5 380,477.5 450,451.5"/>
<polyline points="456,495 476,495 476,412.5"/>
<polyline points="786,163.5 804,163.5 804,214"/>
<polyline points="940,225 916.5,225 886.5,296"/>
<polyline points="1002.5,397.5 981.5,397.5 981.5,470"/>
<polyline points="166,456.5 179,456.5 179,502.5"/>
<polyline points="457.5,530 475,530 527.5,520"/>
<polyline points="414,600 450,600"/>
<polyline points="154,645 170,645 202.5,720"/>
<polyline points="458.5,674 485,674 525,579"/>
<polyline points="554,723.4 618.3,723.4 638.2,740.3"/>
<polyline points="387.5,764 367.5,764 350,785"/>
<polyline points="682.5,506 665,506 590,547"/>
<polyline points="735,575 715,575 695,596"/>
<polyline points="671,671.5 683.5,671.5 683.5,726"/>
<polyline points="855,725 835,725 765,787.5"/>
<polyline points="1052.8,752 1018,752"/>
<polyline points="1062.5,810.3 1026.7,810.3"/>
<polyline points="592.5,844 693.5,844"/>
<polyline points="427.5,882.5 416,882.5 416,925"/>
<polyline points="176,942.5 194,942.5 212.5,880"/>
<polyline points="405,981 392.5,981 370,960"/>
<polyline points="557.5,947.5 571.5,947.5 571.5,996"/>
<polyline points="245,1000.5 289,1000.5"/>
<polyline points="170,1045 190,1045 207.5,1054"/>
<polyline points="361,1066 361,1157.5"/>
<polyline points="320,1105 320,1171.5 357.5,1171.5"/>
<polyline points="406.5,1116 406.5,1162.5"/>
<polyline points="260,1141 291.5,1180"/>
<polyline points="132.5,1143 120,1143 120,1326"/>
<polyline points="559,1140 547.5,1140 537.5,1156"/>
<polyline points="458.5,1190 458.5,1202.5 500,1212.5"/>
<polyline points="688.5,906.5 706,906.5 746,847.5"/>
<polyline points="1009,865 994,865 986.5,897.5"/>
<polyline points="1041.5,930.3 1016.5,930.3"/>
<polyline points="762.5,956 795,956"/>
<polyline points="1112.5,985 1092.5,985 1059,1020"/>
<polyline points="727.5,1040 743.5,1040 775,1110"/>
<polyline points="648.5,1115 648.5,1154 612,1162"/>
<polyline points="761,1162 768.5,1162 772.5,1148"/>
<polyline points="159,1190 149,1190 149,1312.5"/>
<polyline points="181,1232.5 171,1232.5 171,1304"/>
<polyline points="429,1245 452.5,1245 487.5,1219"/>
<polyline points="306,1279 306,1297.5"/>
<polyline points="550,1276 532.5,1276 507.5,1232.5"/>
<polyline points="513.5,1306 495,1306 495,1255"/>
<polyline points="492.5,1327.5 440,1327.5 440,1301"/>
<polyline points="432.5,1360 350,1360 350,1330"/>
<polyline points="646,1370 670,1370 690,1405"/>
<polyline points="107.5,1375 107.5,1347.5"/>
<polyline points="380,1408.5 315,1408.5"/>
<polyline points="596,1435 638.5,1436"/>
<polyline points="276.5,1458.5 221.5,1458.5 221.5,1432.5"/>
<polyline points="165,1518.5 151.5,1518.5 151.5,1425"/>
<polyline points="149,1565 133.5,1565 133.5,1430"/>
<polyline points="129,1598.5 101.5,1598.5 101.5,1462.5"/>
<polyline points="656,1186.3 642.1,1186.3 642.1,1177"/>
<polyline points="638.5,1214 628.5,1214 628.5,1192.5"/>
<polyline points="1161.5,1207.5 1177.5,1207.5 1177.5,1118"/>
<polyline points="1087.5,1242.5 1062.5,1242.5 1017.5,1217.5"/>
<polyline points="814,1248.5 837.5,1248.5 854,1235"/>
<polyline points="770,1282.5 782.5,1282.5 795,1337.5"/>
<polyline points="874,1283.5 887.5,1283.5 900,1300"/>
<polyline points="1110,1285 1080,1285"/>
<polyline points="697.5,1311 712.5,1311 727.5,1337.5"/>
<polyline points="946,1368.5 1000,1368.5"/>
<polyline points="1124,1386 1112.5,1386 1095,1402.5"/>
<polyline points="945,1407.5 1039,1407.5"/>
<polyline points="1101,1440 1060,1440"/>
<polyline points="947.5,1481 995,1481 1017.5,1466"/>
<polyline points="947,1512 996,1512 1031.5,1506"/>
<polyline points="955,1542 1002.7,1542 1038.3,1536.7"/>
<polyline points="955,1583 999.4,1583 1038,1571"/>
</g>
<g>
<text transform="translate(189,145.6) scale(0.759,1)">531338 01</text>
<text transform="translate(549,151.6) scale(0.759,1)">513163</text>
<text transform="translate(136,188.6) scale(0.759,1)">512369</text>
<text transform="translate(544,218.1) scale(0.759,1)">531337 01</text>
<text transform="translate(147.5,284.6) scale(0.759,1)">527744</text>
<text transform="translate(562,273.6) scale(0.759,1)">329896 (2)</text>
<text transform="translate(97,340.6) scale(0.759,1)">505322 (2)</text>
<text transform="translate(245,347.6) scale(0.759,1)">332453</text>
<text transform="translate(244,376.6) scale(0.759,1)">343517</text>
<text transform="translate(630,356.1) scale(0.759,1)">530301</text>
<text transform="translate(219,451.6) scale(0.759,1)">332448</text>
<text transform="translate(631,418.6) scale(0.759,1)">528890</text>
<text transform="translate(631,452.6) scale(0.759,1)">525769</text>
<text transform="translate(306,485.1) scale(0.759,1)">549670</text>
<text transform="translate(396.5,502.6) scale(0.759,1)">337176</text>
<text transform="translate(726,171.1) scale(0.759,1)">527256</text>
<text transform="translate(948,232.6) scale(0.759,1)">513985 01</text>
<text transform="translate(1008.5,405.1) scale(0.759,1)">527677</text>
<text transform="translate(88,464.1) scale(0.759,1)">531163 01</text>
<text transform="translate(395,537.6) scale(0.759,1)">531203</text>
<text transform="translate(325.5,607.6) scale(0.759,1)">701771 (2)</text>
<text transform="translate(94,652.6) scale(0.759,1)">531058</text>
<text transform="translate(370.5,681.6) scale(0.759,1)">512369 (2)</text>
<text transform="translate(466,731.6) scale(0.759,1)">531024 (2)</text>
<text transform="translate(394,771.6) scale(0.759,1)">527605</text>
<text transform="translate(692.5,513.6) scale(0.759,1)">544675 01 (4)</text>
<text transform="translate(745,582.6) scale(0.759,1)">528982 01</text>
<text transform="translate(587,679.1) scale(0.759,1)">700967 (2)</text>
<text transform="translate(861,732.6) scale(0.759,1)">531023</text>
<text transform="translate(1059.5,760.6) scale(0.759,1)">530773</text>
<text transform="translate(1062.4,760.6) scale(0.72,1)">530773</text>
<text transform="translate(1065.4,819.6) scale(0.759,1)">703172</text>
<text transform="translate(507.5,851.6) scale(0.759,1)">512298 01</text>
<text transform="translate(435,890.1) scale(0.759,1)">531026</text>
<text transform="translate(115,950.1) scale(0.759,1)">527674</text>
<text transform="translate(412,988.6) scale(0.759,1)">530423</text>
<text transform="translate(496.5,955.1) scale(0.759,1)">528785</text>
<text transform="translate(160.5,1008.1) scale(0.759,1)">510953 (2)</text>
<text transform="translate(106,1052.6) scale(0.759,1)">531258</text>
<text transform="translate(323,1062.6) scale(0.759,1)">531226 (2)</text>
<text transform="translate(273,1100.1) scale(0.759,1)">531227 (2)</text>
<text transform="translate(379,1113.6) scale(0.759,1)">528786</text>
<text transform="translate(233,1137.6) scale(0.759,1)">530230</text>
<text transform="translate(135,1150) scale(0.759,1)">531223 (2)</text>
<text transform="translate(565,1147.6) scale(0.759,1)">54837101</text>
<text transform="translate(415,1186.6) scale(0.759,1)">530160</text>
<text transform="translate(602,914.1) scale(0.759,1)">348953 (2)</text>
<text transform="translate(1015,872.6) scale(0.759,1)">531079</text>
<text transform="translate(1046.5,937.6) scale(0.759,1)">700821 (2)</text>
<text transform="translate(705,963.6) scale(0.759,1)">513381</text>
<text transform="translate(1121,992.6) scale(0.759,1)">530481 40</text>
<text transform="translate(641.5,1047.6) scale(0.759,1)">530158 (2)</text>
<text transform="translate(621,1110.6) scale(0.759,1)">700363</text>
<text transform="translate(677.5,1169.6) scale(0.759,1)">531271 (4)</text>
<text transform="translate(161,1197.1) scale(0.759,1)">531275 (2)</text>
<text transform="translate(184,1240.1) scale(0.759,1)">702387 (2)</text>
<text transform="translate(367.5,1252.6) scale(0.759,1)">531140</text>
<text transform="translate(272.5,1276.6) scale(0.759,1)">512423 (2)</text>
<text transform="translate(555,1283.6) scale(0.759,1)">530162</text>
<text transform="translate(518.5,1313.6) scale(0.759,1)">530159</text>
<text transform="translate(496.5,1335.1) scale(0.759,1)">548402</text>
<text transform="translate(437.5,1367.6) scale(0.759,1)">531024 (2)</text>
<text transform="translate(560,1377.6) scale(0.759,1)">703172 (2)</text>
<text transform="translate(70.5,1396.1) scale(0.759,1)">700489 (2)</text>
<text transform="translate(385.5,1416.1) scale(0.759,1)">512913</text>
<text transform="translate(484,1442.6) scale(0.759,1)">523603 02 (2)</text>
<text transform="translate(280,1466.1) scale(0.759,1)">527845 (2)</text>
<text transform="translate(167.5,1526.1) scale(0.759,1)">700138 (4)</text>
<text transform="translate(156,1572.6) scale(0.759,1)">531193 (2)</text>
<text transform="translate(137.5,1606.1) scale(0.759,1)">523603 02 (2)</text>
<text transform="translate(660,1193.6) scale(0.759,1)">530376 (2)</text>
<text transform="translate(642.5,1221.6) scale(0.759,1)">530375 (2)</text>
<text transform="translate(1101,1215.1) scale(0.759,1)">530157</text>
<text transform="translate(1093.5,1250.1) scale(0.759,1)">530156</text>
<text transform="translate(729,1256.1) scale(0.759,1)">548404 40</text>
<text transform="translate(686,1290.1) scale(0.759,1)">549372 (4)</text>
<text transform="translate(815,1291.1) scale(0.759,1)">530153</text>
<text transform="translate(1114,1292.6) scale(0.759,1)">703172 (6)</text>
<text transform="translate(610.5,1318.6) scale(0.759,1)">523599 (2)</text>
<text transform="translate(886.5,1376.1) scale(0.759,1)">531078</text>
<text transform="translate(1131.5,1393.6) scale(0.759,1)">700390</text>
<text transform="translate(886,1415.1) scale(0.759,1)">531024</text>
<text transform="translate(1109,1447.6) scale(0.759,1)">512461</text>
<text transform="translate(886.5,1488.6) scale(0.759,1)">548415</text>
<text transform="translate(886.5,1519.6) scale(0.759,1)">316913</text>
<text transform="translate(899,1549.1) scale(0.759,1)">700202</text>
<text transform="translate(899,1590.6) scale(0.759,1)">323221</text>
</g>
</svg></body></html>
